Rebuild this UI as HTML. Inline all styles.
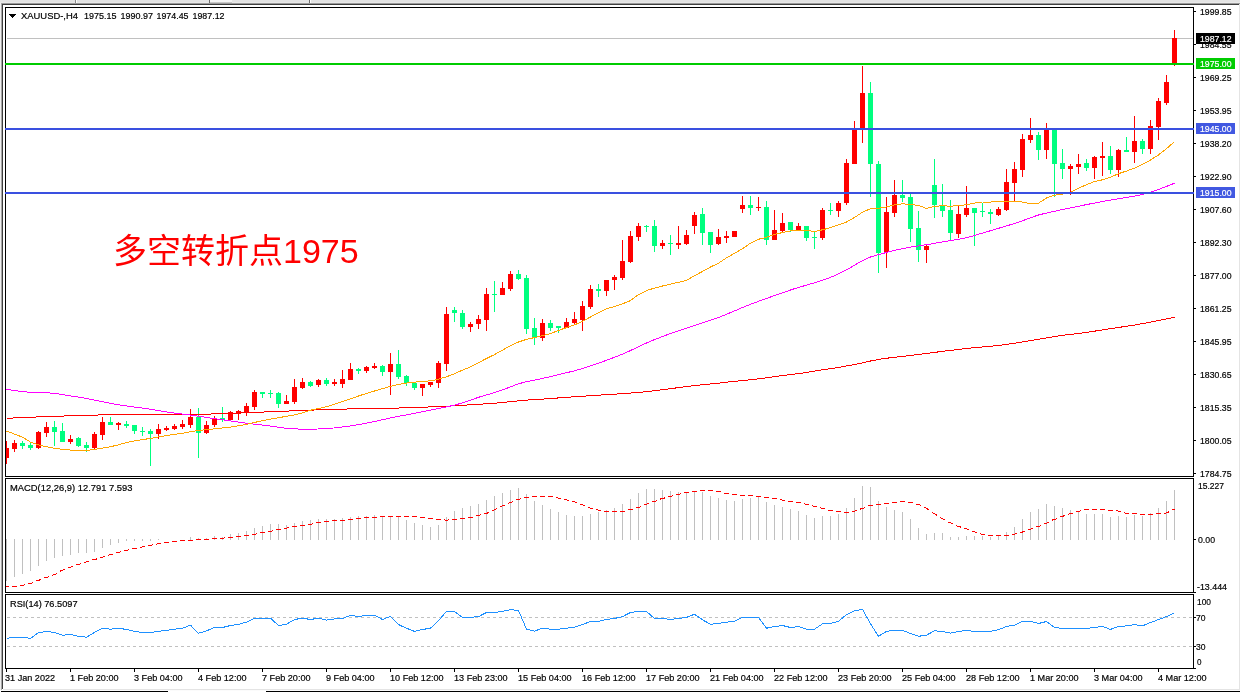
<!DOCTYPE html>
<html><head><meta charset="utf-8"><title>XAUUSD H4</title>
<style>
html,body{margin:0;padding:0;background:#fff;}
body{width:1240px;height:692px;overflow:hidden;}
svg{display:block;}
text{shape-rendering:auto;}
</style></head>
<body>
<svg width="1240" height="692" viewBox="0 0 1240 692" shape-rendering="crispEdges">
<rect x="0" y="0" width="1240" height="692" fill="#ffffff"/>
<rect x="0" y="0" width="1240" height="2" fill="#e3e3e3"/>
<rect x="0" y="2" width="1240" height="1" fill="#e9e9e9"/>
<rect x="0" y="3" width="1240" height="1" fill="#9a9a9a"/>
<rect x="2" y="4" width="1237" height="1" fill="#404040"/>
<rect x="75" y="0" width="1" height="3" fill="#8a8a8a"/>
<rect x="76" y="0" width="1" height="3" fill="#ffffff"/>
<rect x="209" y="0" width="1" height="3" fill="#6a6a6a"/>
<rect x="210" y="0" width="22" height="2" fill="#f4f4f4"/>
<rect x="210" y="2" width="22" height="1" fill="#c8c8c8"/>
<rect x="309" y="0" width="1" height="3" fill="#6a6a6a"/>
<rect x="310" y="0" width="1" height="3" fill="#ffffff"/>
<rect x="0" y="3" width="1" height="688" fill="#f0f0f0"/>
<rect x="1" y="3" width="1" height="687" fill="#a8a8a8"/>
<rect x="2" y="4" width="1" height="685" fill="#404040"/>
<rect x="1239" y="4" width="1" height="687" fill="#e4e4e4"/>
<rect x="3" y="689" width="1236" height="1" fill="#e4e4e4"/>
<rect x="0" y="690" width="1240" height="1" fill="#fbfbfb"/>
<rect x="1" y="691" width="167" height="1" fill="#000000"/>
<rect x="266" y="691" width="974" height="1" fill="#000000"/>
<defs><clipPath id="cm"><rect x="6" y="8" width="1187" height="468"/></clipPath><clipPath id="cd"><rect x="6" y="479" width="1187" height="113"/></clipPath><clipPath id="cr"><rect x="6" y="595" width="1187" height="73"/></clipPath></defs>
<g clip-path="url(#cm)">
<rect x="7" y="38" width="1186" height="1" fill="#c0c0c0"/>
<rect x="6" y="441" width="1" height="23" fill="#ff0000"/>
<rect x="4" y="448" width="5" height="10" fill="#ff0000"/>
<rect x="14" y="440" width="1" height="12" fill="#ff0000"/>
<rect x="12" y="443" width="5" height="6" fill="#ff0000"/>
<rect x="22" y="441" width="1" height="8" fill="#00ff7f"/>
<rect x="20" y="443" width="5" height="3" fill="#00ff7f"/>
<rect x="30" y="442" width="1" height="8" fill="#00ff7f"/>
<rect x="28" y="445" width="5" height="3" fill="#00ff7f"/>
<rect x="38" y="431" width="1" height="18" fill="#ff0000"/>
<rect x="36" y="432" width="5" height="16" fill="#ff0000"/>
<rect x="46" y="422" width="1" height="15" fill="#ff0000"/>
<rect x="44" y="427" width="5" height="6" fill="#ff0000"/>
<rect x="54" y="421" width="1" height="25" fill="#00ff7f"/>
<rect x="52" y="427" width="5" height="5" fill="#00ff7f"/>
<rect x="62" y="423" width="1" height="19" fill="#00ff7f"/>
<rect x="60" y="431" width="5" height="11" fill="#00ff7f"/>
<rect x="70" y="435" width="1" height="9" fill="#ff0000"/>
<rect x="68" y="439" width="5" height="3" fill="#ff0000"/>
<rect x="78" y="437" width="1" height="10" fill="#00ff7f"/>
<rect x="76" y="438" width="5" height="8" fill="#00ff7f"/>
<rect x="86" y="442" width="1" height="10" fill="#00ff7f"/>
<rect x="84" y="445" width="5" height="3" fill="#00ff7f"/>
<rect x="94" y="432" width="1" height="17" fill="#ff0000"/>
<rect x="92" y="434" width="5" height="14" fill="#ff0000"/>
<rect x="102" y="417" width="1" height="23" fill="#ff0000"/>
<rect x="100" y="422" width="5" height="13" fill="#ff0000"/>
<rect x="110" y="417" width="1" height="8" fill="#00ff7f"/>
<rect x="108" y="422" width="5" height="3" fill="#00ff7f"/>
<rect x="118" y="422" width="1" height="8" fill="#ff0000"/>
<rect x="116" y="423" width="5" height="2" fill="#ff0000"/>
<rect x="126" y="421" width="1" height="7" fill="#00ff7f"/>
<rect x="124" y="424" width="5" height="2" fill="#00ff7f"/>
<rect x="134" y="425" width="1" height="9" fill="#00ff7f"/>
<rect x="132" y="425" width="5" height="6" fill="#00ff7f"/>
<rect x="142" y="427" width="1" height="9" fill="#00ff7f"/>
<rect x="140" y="431" width="5" height="1" fill="#00ff7f"/>
<rect x="150" y="429" width="1" height="37" fill="#00ff7f"/>
<rect x="148" y="431" width="5" height="3" fill="#00ff7f"/>
<rect x="158" y="424" width="1" height="15" fill="#ff0000"/>
<rect x="156" y="429" width="5" height="5" fill="#ff0000"/>
<rect x="166" y="426" width="1" height="5" fill="#ff0000"/>
<rect x="164" y="428" width="5" height="2" fill="#ff0000"/>
<rect x="174" y="424" width="1" height="6" fill="#ff0000"/>
<rect x="172" y="426" width="5" height="3" fill="#ff0000"/>
<rect x="182" y="420" width="1" height="9" fill="#ff0000"/>
<rect x="180" y="424" width="5" height="3" fill="#ff0000"/>
<rect x="190" y="409" width="1" height="19" fill="#ff0000"/>
<rect x="188" y="417" width="5" height="8" fill="#ff0000"/>
<rect x="198" y="408" width="1" height="50" fill="#00ff7f"/>
<rect x="196" y="417" width="5" height="16" fill="#00ff7f"/>
<rect x="206" y="421" width="1" height="13" fill="#ff0000"/>
<rect x="204" y="425" width="5" height="8" fill="#ff0000"/>
<rect x="214" y="416" width="1" height="11" fill="#ff0000"/>
<rect x="212" y="418" width="5" height="7" fill="#ff0000"/>
<rect x="222" y="407" width="1" height="15" fill="#00ff7f"/>
<rect x="220" y="418" width="5" height="2" fill="#00ff7f"/>
<rect x="230" y="411" width="1" height="10" fill="#ff0000"/>
<rect x="228" y="412" width="5" height="8" fill="#ff0000"/>
<rect x="238" y="410" width="1" height="10" fill="#ff0000"/>
<rect x="236" y="411" width="5" height="2" fill="#ff0000"/>
<rect x="246" y="403" width="1" height="13" fill="#ff0000"/>
<rect x="244" y="406" width="5" height="6" fill="#ff0000"/>
<rect x="254" y="390" width="1" height="20" fill="#ff0000"/>
<rect x="252" y="392" width="5" height="15" fill="#ff0000"/>
<rect x="262" y="392" width="1" height="6" fill="#00ff7f"/>
<rect x="260" y="392" width="5" height="2" fill="#00ff7f"/>
<rect x="270" y="390" width="1" height="8" fill="#00ff7f"/>
<rect x="268" y="393" width="5" height="1" fill="#00ff7f"/>
<rect x="278" y="392" width="1" height="16" fill="#00ff7f"/>
<rect x="276" y="393" width="5" height="11" fill="#00ff7f"/>
<rect x="286" y="395" width="1" height="9" fill="#ff0000"/>
<rect x="284" y="401" width="5" height="3" fill="#ff0000"/>
<rect x="294" y="379" width="1" height="25" fill="#ff0000"/>
<rect x="292" y="387" width="5" height="15" fill="#ff0000"/>
<rect x="302" y="378" width="1" height="11" fill="#ff0000"/>
<rect x="300" y="382" width="5" height="6" fill="#ff0000"/>
<rect x="310" y="381" width="1" height="6" fill="#00ff7f"/>
<rect x="308" y="382" width="5" height="4" fill="#00ff7f"/>
<rect x="318" y="379" width="1" height="8" fill="#ff0000"/>
<rect x="316" y="380" width="5" height="5" fill="#ff0000"/>
<rect x="326" y="378" width="1" height="8" fill="#00ff7f"/>
<rect x="324" y="380" width="5" height="4" fill="#00ff7f"/>
<rect x="334" y="379" width="1" height="7" fill="#ff0000"/>
<rect x="332" y="382" width="5" height="2" fill="#ff0000"/>
<rect x="342" y="370" width="1" height="18" fill="#ff0000"/>
<rect x="340" y="379" width="5" height="5" fill="#ff0000"/>
<rect x="350" y="363" width="1" height="17" fill="#ff0000"/>
<rect x="348" y="369" width="5" height="11" fill="#ff0000"/>
<rect x="358" y="368" width="1" height="6" fill="#00ff7f"/>
<rect x="356" y="369" width="5" height="2" fill="#00ff7f"/>
<rect x="366" y="366" width="1" height="7" fill="#ff0000"/>
<rect x="364" y="367" width="5" height="4" fill="#ff0000"/>
<rect x="374" y="363" width="1" height="6" fill="#ff0000"/>
<rect x="372" y="366" width="5" height="2" fill="#ff0000"/>
<rect x="382" y="365" width="1" height="11" fill="#00ff7f"/>
<rect x="380" y="366" width="5" height="6" fill="#00ff7f"/>
<rect x="390" y="353" width="1" height="42" fill="#ff0000"/>
<rect x="388" y="364" width="5" height="8" fill="#ff0000"/>
<rect x="398" y="350" width="1" height="29" fill="#00ff7f"/>
<rect x="396" y="364" width="5" height="13" fill="#00ff7f"/>
<rect x="406" y="375" width="1" height="11" fill="#00ff7f"/>
<rect x="404" y="376" width="5" height="7" fill="#00ff7f"/>
<rect x="414" y="383" width="1" height="7" fill="#00ff7f"/>
<rect x="412" y="383" width="5" height="5" fill="#00ff7f"/>
<rect x="422" y="384" width="1" height="12" fill="#ff0000"/>
<rect x="420" y="384" width="5" height="4" fill="#ff0000"/>
<rect x="430" y="382" width="1" height="5" fill="#ff0000"/>
<rect x="428" y="382" width="5" height="3" fill="#ff0000"/>
<rect x="438" y="361" width="1" height="27" fill="#ff0000"/>
<rect x="436" y="363" width="5" height="20" fill="#ff0000"/>
<rect x="446" y="307" width="1" height="64" fill="#ff0000"/>
<rect x="444" y="314" width="5" height="50" fill="#ff0000"/>
<rect x="454" y="307" width="1" height="15" fill="#00ff7f"/>
<rect x="452" y="310" width="5" height="3" fill="#00ff7f"/>
<rect x="462" y="310" width="1" height="19" fill="#00ff7f"/>
<rect x="460" y="313" width="5" height="14" fill="#00ff7f"/>
<rect x="470" y="322" width="1" height="10" fill="#ff0000"/>
<rect x="468" y="324" width="5" height="3" fill="#ff0000"/>
<rect x="478" y="315" width="1" height="14" fill="#ff0000"/>
<rect x="476" y="319" width="5" height="5" fill="#ff0000"/>
<rect x="486" y="288" width="1" height="43" fill="#ff0000"/>
<rect x="484" y="294" width="5" height="26" fill="#ff0000"/>
<rect x="494" y="281" width="1" height="31" fill="#00ff7f"/>
<rect x="492" y="294" width="5" height="1" fill="#00ff7f"/>
<rect x="502" y="282" width="1" height="13" fill="#ff0000"/>
<rect x="500" y="288" width="5" height="7" fill="#ff0000"/>
<rect x="510" y="271" width="1" height="20" fill="#ff0000"/>
<rect x="508" y="274" width="5" height="15" fill="#ff0000"/>
<rect x="518" y="270" width="1" height="10" fill="#00ff7f"/>
<rect x="516" y="274" width="5" height="5" fill="#00ff7f"/>
<rect x="526" y="275" width="1" height="59" fill="#00ff7f"/>
<rect x="524" y="278" width="5" height="51" fill="#00ff7f"/>
<rect x="534" y="318" width="1" height="27" fill="#00ff7f"/>
<rect x="532" y="328" width="5" height="10" fill="#00ff7f"/>
<rect x="542" y="319" width="1" height="22" fill="#ff0000"/>
<rect x="540" y="323" width="5" height="15" fill="#ff0000"/>
<rect x="550" y="320" width="1" height="11" fill="#00ff7f"/>
<rect x="548" y="323" width="5" height="5" fill="#00ff7f"/>
<rect x="558" y="326" width="1" height="7" fill="#00ff7f"/>
<rect x="556" y="326" width="5" height="2" fill="#00ff7f"/>
<rect x="566" y="318" width="1" height="10" fill="#ff0000"/>
<rect x="564" y="322" width="5" height="6" fill="#ff0000"/>
<rect x="574" y="312" width="1" height="12" fill="#ff0000"/>
<rect x="572" y="319" width="5" height="4" fill="#ff0000"/>
<rect x="582" y="301" width="1" height="30" fill="#ff0000"/>
<rect x="580" y="306" width="5" height="14" fill="#ff0000"/>
<rect x="590" y="285" width="1" height="24" fill="#ff0000"/>
<rect x="588" y="289" width="5" height="18" fill="#ff0000"/>
<rect x="598" y="284" width="1" height="13" fill="#00ff7f"/>
<rect x="596" y="289" width="5" height="2" fill="#00ff7f"/>
<rect x="606" y="280" width="1" height="16" fill="#ff0000"/>
<rect x="604" y="280" width="5" height="11" fill="#ff0000"/>
<rect x="614" y="275" width="1" height="15" fill="#ff0000"/>
<rect x="612" y="277" width="5" height="3" fill="#ff0000"/>
<rect x="622" y="240" width="1" height="40" fill="#ff0000"/>
<rect x="620" y="261" width="5" height="17" fill="#ff0000"/>
<rect x="630" y="231" width="1" height="32" fill="#ff0000"/>
<rect x="628" y="236" width="5" height="26" fill="#ff0000"/>
<rect x="638" y="223" width="1" height="18" fill="#ff0000"/>
<rect x="636" y="226" width="5" height="11" fill="#ff0000"/>
<rect x="646" y="225" width="1" height="7" fill="#00ff7f"/>
<rect x="644" y="226" width="5" height="1" fill="#00ff7f"/>
<rect x="654" y="220" width="1" height="32" fill="#00ff7f"/>
<rect x="652" y="226" width="5" height="20" fill="#00ff7f"/>
<rect x="662" y="240" width="1" height="9" fill="#ff0000"/>
<rect x="660" y="243" width="5" height="3" fill="#ff0000"/>
<rect x="670" y="235" width="1" height="20" fill="#00ff7f"/>
<rect x="668" y="243" width="5" height="1" fill="#00ff7f"/>
<rect x="678" y="226" width="1" height="23" fill="#ff0000"/>
<rect x="676" y="243" width="5" height="2" fill="#ff0000"/>
<rect x="686" y="230" width="1" height="15" fill="#ff0000"/>
<rect x="684" y="235" width="5" height="9" fill="#ff0000"/>
<rect x="694" y="212" width="1" height="22" fill="#ff0000"/>
<rect x="692" y="215" width="5" height="11" fill="#ff0000"/>
<rect x="702" y="208" width="1" height="37" fill="#00ff7f"/>
<rect x="700" y="214" width="5" height="19" fill="#00ff7f"/>
<rect x="710" y="232" width="1" height="21" fill="#00ff7f"/>
<rect x="708" y="232" width="5" height="13" fill="#00ff7f"/>
<rect x="718" y="229" width="1" height="16" fill="#ff0000"/>
<rect x="716" y="237" width="5" height="7" fill="#ff0000"/>
<rect x="726" y="231" width="1" height="12" fill="#ff0000"/>
<rect x="724" y="236" width="5" height="2" fill="#ff0000"/>
<rect x="734" y="231" width="1" height="6" fill="#ff0000"/>
<rect x="732" y="231" width="5" height="6" fill="#ff0000"/>
<rect x="742" y="196" width="1" height="17" fill="#ff0000"/>
<rect x="740" y="205" width="5" height="4" fill="#ff0000"/>
<rect x="750" y="196" width="1" height="19" fill="#00ff7f"/>
<rect x="748" y="205" width="5" height="3" fill="#00ff7f"/>
<rect x="758" y="197" width="1" height="14" fill="#ff0000"/>
<rect x="756" y="207" width="5" height="1" fill="#ff0000"/>
<rect x="766" y="201" width="1" height="44" fill="#00ff7f"/>
<rect x="764" y="207" width="5" height="33" fill="#00ff7f"/>
<rect x="774" y="210" width="1" height="30" fill="#ff0000"/>
<rect x="772" y="230" width="5" height="10" fill="#ff0000"/>
<rect x="782" y="213" width="1" height="19" fill="#ff0000"/>
<rect x="780" y="223" width="5" height="8" fill="#ff0000"/>
<rect x="790" y="222" width="1" height="10" fill="#00ff7f"/>
<rect x="788" y="222" width="5" height="8" fill="#00ff7f"/>
<rect x="798" y="223" width="1" height="7" fill="#ff0000"/>
<rect x="796" y="226" width="5" height="4" fill="#ff0000"/>
<rect x="806" y="226" width="1" height="15" fill="#00ff7f"/>
<rect x="804" y="226" width="5" height="12" fill="#00ff7f"/>
<rect x="814" y="232" width="1" height="17" fill="#00ff7f"/>
<rect x="812" y="237" width="5" height="1" fill="#00ff7f"/>
<rect x="822" y="208" width="1" height="32" fill="#ff0000"/>
<rect x="820" y="210" width="5" height="28" fill="#ff0000"/>
<rect x="830" y="203" width="1" height="12" fill="#00ff7f"/>
<rect x="828" y="210" width="5" height="1" fill="#00ff7f"/>
<rect x="838" y="201" width="1" height="16" fill="#ff0000"/>
<rect x="836" y="203" width="5" height="8" fill="#ff0000"/>
<rect x="846" y="159" width="1" height="46" fill="#ff0000"/>
<rect x="844" y="163" width="5" height="40" fill="#ff0000"/>
<rect x="854" y="121" width="1" height="43" fill="#ff0000"/>
<rect x="852" y="130" width="5" height="34" fill="#ff0000"/>
<rect x="862" y="66" width="1" height="77" fill="#ff0000"/>
<rect x="860" y="93" width="5" height="36" fill="#ff0000"/>
<rect x="870" y="82" width="1" height="115" fill="#00ff7f"/>
<rect x="868" y="93" width="5" height="71" fill="#00ff7f"/>
<rect x="878" y="161" width="1" height="112" fill="#00ff7f"/>
<rect x="876" y="164" width="5" height="89" fill="#00ff7f"/>
<rect x="886" y="197" width="1" height="71" fill="#ff0000"/>
<rect x="884" y="212" width="5" height="40" fill="#ff0000"/>
<rect x="894" y="180" width="1" height="37" fill="#ff0000"/>
<rect x="892" y="195" width="5" height="18" fill="#ff0000"/>
<rect x="902" y="180" width="1" height="22" fill="#00ff7f"/>
<rect x="900" y="195" width="5" height="3" fill="#00ff7f"/>
<rect x="910" y="194" width="1" height="48" fill="#00ff7f"/>
<rect x="908" y="197" width="5" height="32" fill="#00ff7f"/>
<rect x="918" y="211" width="1" height="51" fill="#00ff7f"/>
<rect x="916" y="228" width="5" height="22" fill="#00ff7f"/>
<rect x="926" y="245" width="1" height="18" fill="#ff0000"/>
<rect x="924" y="246" width="5" height="4" fill="#ff0000"/>
<rect x="934" y="159" width="1" height="59" fill="#00ff7f"/>
<rect x="932" y="185" width="5" height="20" fill="#00ff7f"/>
<rect x="942" y="184" width="1" height="33" fill="#00ff7f"/>
<rect x="940" y="205" width="5" height="6" fill="#00ff7f"/>
<rect x="950" y="200" width="1" height="40" fill="#00ff7f"/>
<rect x="948" y="210" width="5" height="23" fill="#00ff7f"/>
<rect x="958" y="206" width="1" height="32" fill="#ff0000"/>
<rect x="956" y="214" width="5" height="20" fill="#ff0000"/>
<rect x="966" y="186" width="1" height="31" fill="#ff0000"/>
<rect x="964" y="208" width="5" height="7" fill="#ff0000"/>
<rect x="974" y="208" width="1" height="38" fill="#00ff7f"/>
<rect x="972" y="208" width="5" height="5" fill="#00ff7f"/>
<rect x="982" y="203" width="1" height="14" fill="#00ff7f"/>
<rect x="980" y="211" width="5" height="1" fill="#00ff7f"/>
<rect x="990" y="209" width="1" height="15" fill="#00ff7f"/>
<rect x="988" y="212" width="5" height="2" fill="#00ff7f"/>
<rect x="998" y="207" width="1" height="9" fill="#ff0000"/>
<rect x="996" y="209" width="5" height="6" fill="#ff0000"/>
<rect x="1006" y="169" width="1" height="42" fill="#ff0000"/>
<rect x="1004" y="182" width="5" height="28" fill="#ff0000"/>
<rect x="1014" y="162" width="1" height="39" fill="#ff0000"/>
<rect x="1012" y="169" width="5" height="14" fill="#ff0000"/>
<rect x="1022" y="134" width="1" height="43" fill="#ff0000"/>
<rect x="1020" y="139" width="5" height="31" fill="#ff0000"/>
<rect x="1030" y="118" width="1" height="25" fill="#ff0000"/>
<rect x="1028" y="135" width="5" height="5" fill="#ff0000"/>
<rect x="1038" y="132" width="1" height="28" fill="#00ff7f"/>
<rect x="1036" y="135" width="5" height="15" fill="#00ff7f"/>
<rect x="1046" y="123" width="1" height="36" fill="#ff0000"/>
<rect x="1044" y="130" width="5" height="20" fill="#ff0000"/>
<rect x="1054" y="130" width="1" height="67" fill="#00ff7f"/>
<rect x="1052" y="130" width="5" height="34" fill="#00ff7f"/>
<rect x="1062" y="149" width="1" height="30" fill="#00ff7f"/>
<rect x="1060" y="163" width="5" height="6" fill="#00ff7f"/>
<rect x="1070" y="164" width="1" height="31" fill="#ff0000"/>
<rect x="1068" y="166" width="5" height="3" fill="#ff0000"/>
<rect x="1078" y="154" width="1" height="20" fill="#ff0000"/>
<rect x="1076" y="164" width="5" height="3" fill="#ff0000"/>
<rect x="1086" y="159" width="1" height="12" fill="#00ff7f"/>
<rect x="1084" y="163" width="5" height="5" fill="#00ff7f"/>
<rect x="1094" y="156" width="1" height="23" fill="#ff0000"/>
<rect x="1092" y="157" width="5" height="11" fill="#ff0000"/>
<rect x="1102" y="142" width="1" height="34" fill="#ff0000"/>
<rect x="1100" y="156" width="5" height="2" fill="#ff0000"/>
<rect x="1110" y="146" width="1" height="28" fill="#00ff7f"/>
<rect x="1108" y="156" width="5" height="14" fill="#00ff7f"/>
<rect x="1118" y="149" width="1" height="28" fill="#ff0000"/>
<rect x="1116" y="150" width="5" height="20" fill="#ff0000"/>
<rect x="1126" y="137" width="1" height="15" fill="#00ff7f"/>
<rect x="1124" y="150" width="5" height="2" fill="#00ff7f"/>
<rect x="1134" y="116" width="1" height="47" fill="#ff0000"/>
<rect x="1132" y="141" width="5" height="11" fill="#ff0000"/>
<rect x="1142" y="139" width="1" height="15" fill="#00ff7f"/>
<rect x="1140" y="141" width="5" height="8" fill="#00ff7f"/>
<rect x="1150" y="120" width="1" height="34" fill="#ff0000"/>
<rect x="1148" y="126" width="5" height="23" fill="#ff0000"/>
<rect x="1158" y="98" width="1" height="42" fill="#ff0000"/>
<rect x="1156" y="101" width="5" height="26" fill="#ff0000"/>
<rect x="1166" y="75" width="1" height="30" fill="#ff0000"/>
<rect x="1164" y="82" width="5" height="21" fill="#ff0000"/>
<rect x="1174" y="30" width="1" height="36" fill="#ff0000"/>
<rect x="1172" y="38" width="5" height="26" fill="#ff0000"/>
<polyline points="6.5,418.30 14.5,417.94 22.5,417.58 30.5,417.24 38.5,416.90 46.5,416.58 54.5,416.30 62.5,416.05 70.5,415.82 78.5,415.58 86.5,415.35 94.5,415.12 102.5,414.88 110.5,414.65 118.5,414.47 126.5,414.45 134.5,414.57 142.5,414.74 150.5,414.87 158.5,414.91 166.5,414.84 174.5,414.73 182.5,414.61 190.5,414.48 198.5,414.31 206.5,414.11 214.5,413.92 222.5,413.71 230.5,413.44 238.5,413.10 246.5,412.74 254.5,412.39 262.5,412.06 270.5,411.75 278.5,411.44 286.5,411.11 294.5,410.75 302.5,410.40 310.5,410.10 318.5,409.85 326.5,409.62 334.5,409.39 342.5,409.15 350.5,408.91 358.5,408.66 366.5,408.45 374.5,408.33 382.5,408.30 390.5,408.23 398.5,408.03 406.5,407.77 414.5,407.50 422.5,407.21 430.5,406.90 438.5,406.58 446.5,406.23 454.5,405.80 462.5,405.29 470.5,404.78 478.5,404.30 486.5,403.78 494.5,403.19 502.5,402.48 510.5,401.69 518.5,400.86 526.5,400.10 534.5,399.54 542.5,399.08 550.5,398.54 558.5,397.93 566.5,397.34 574.5,396.79 582.5,396.25 590.5,395.71 598.5,395.19 606.5,394.68 614.5,394.15 622.5,393.61 630.5,393.06 638.5,392.45 646.5,391.64 654.5,390.65 662.5,389.64 670.5,388.64 678.5,387.63 686.5,386.57 694.5,385.56 702.5,384.74 710.5,384.00 718.5,383.13 726.5,382.19 734.5,381.33 742.5,380.54 750.5,379.75 758.5,378.88 766.5,377.79 774.5,376.61 782.5,375.52 790.5,374.55 798.5,373.61 806.5,372.48 814.5,371.07 822.5,369.79 830.5,368.69 838.5,367.40 846.5,365.98 854.5,364.56 862.5,362.85 870.5,361.00 878.5,359.45 886.5,358.24 894.5,357.30 902.5,356.44 910.5,355.48 918.5,354.45 926.5,353.41 934.5,352.38 942.5,351.37 950.5,350.39 958.5,349.43 966.5,348.53 974.5,347.69 982.5,346.93 990.5,346.24 998.5,345.46 1006.5,344.43 1014.5,343.21 1022.5,341.89 1030.5,340.54 1038.5,339.22 1046.5,337.89 1054.5,336.53 1062.5,335.35 1070.5,334.40 1078.5,333.44 1086.5,332.36 1094.5,331.18 1102.5,329.89 1110.5,328.62 1118.5,327.44 1126.5,326.30 1134.5,325.05 1142.5,323.59 1150.5,322.06 1158.5,320.51 1166.5,318.91 1174.5,317.30" fill="none" stroke="#ff0000" stroke-width="1" shape-rendering="crispEdges"/>
<polyline points="6.5,389.40 14.5,390.54 22.5,391.60 30.5,392.29 38.5,392.50 46.5,392.67 54.5,393.38 62.5,394.63 70.5,395.90 78.5,397.09 86.5,398.52 94.5,400.14 102.5,401.76 110.5,403.30 118.5,404.74 126.5,406.00 134.5,407.04 142.5,408.02 150.5,409.21 158.5,410.57 166.5,411.89 174.5,413.03 182.5,414.05 190.5,415.11 198.5,416.25 206.5,417.42 214.5,418.62 222.5,419.79 230.5,420.92 238.5,422.12 246.5,423.26 254.5,424.16 262.5,425.05 270.5,426.12 278.5,427.28 286.5,428.31 294.5,428.94 302.5,429.10 310.5,429.10 318.5,429.00 326.5,428.62 334.5,427.92 342.5,426.98 350.5,425.91 358.5,424.67 366.5,423.21 374.5,421.54 382.5,419.73 390.5,417.98 398.5,416.38 406.5,414.83 414.5,413.28 422.5,411.73 430.5,410.18 438.5,408.60 446.5,406.94 454.5,405.08 462.5,402.90 470.5,400.20 478.5,397.31 486.5,394.89 494.5,392.63 502.5,389.94 510.5,386.83 518.5,383.86 526.5,381.64 534.5,380.03 542.5,378.42 550.5,376.59 558.5,374.64 566.5,372.76 574.5,370.81 582.5,368.48 590.5,365.90 598.5,363.20 606.5,360.31 614.5,357.25 622.5,354.06 630.5,350.54 638.5,346.69 646.5,342.97 654.5,339.63 662.5,336.49 670.5,333.53 678.5,330.80 686.5,328.16 694.5,325.52 702.5,322.86 710.5,320.20 718.5,317.44 726.5,314.34 734.5,310.92 742.5,307.48 750.5,304.30 758.5,301.33 766.5,298.44 774.5,295.60 782.5,292.81 790.5,290.01 798.5,287.41 806.5,285.16 814.5,282.81 822.5,280.20 830.5,277.37 838.5,273.96 846.5,269.85 854.5,265.21 862.5,260.59 870.5,256.98 878.5,254.57 886.5,252.50 894.5,250.41 902.5,248.58 910.5,247.14 918.5,245.93 926.5,244.69 934.5,243.35 942.5,241.93 950.5,240.57 958.5,239.34 966.5,237.79 974.5,235.50 982.5,233.04 990.5,230.71 998.5,228.29 1006.5,225.93 1014.5,223.53 1022.5,220.79 1030.5,217.74 1038.5,214.99 1046.5,213.03 1054.5,211.27 1062.5,209.44 1070.5,207.84 1078.5,206.25 1086.5,204.60 1094.5,203.03 1102.5,201.51 1110.5,200.05 1118.5,198.70 1126.5,197.40 1134.5,196.10 1142.5,194.48 1150.5,192.19 1158.5,189.46 1166.5,186.45 1174.5,183.20" fill="none" stroke="#ff00ff" stroke-width="1" shape-rendering="crispEdges"/>
<polyline points="6.5,431.00 14.5,434.08 22.5,437.17 30.5,442.10 38.5,445.00 46.5,446.68 54.5,448.44 62.5,449.21 70.5,450.06 78.5,450.50 86.5,450.50 94.5,449.35 102.5,448.15 110.5,446.70 118.5,444.86 126.5,442.50 134.5,440.81 142.5,439.62 150.5,438.40 158.5,436.87 166.5,435.52 174.5,434.41 182.5,433.30 190.5,431.70 198.5,430.41 206.5,429.63 214.5,428.85 222.5,427.95 230.5,427.05 238.5,425.84 246.5,424.31 254.5,422.46 262.5,420.66 270.5,419.18 278.5,417.71 286.5,416.32 294.5,414.92 302.5,412.78 310.5,410.20 318.5,408.60 326.5,406.70 334.5,404.30 342.5,401.62 350.5,398.85 358.5,396.02 366.5,393.40 374.5,391.00 382.5,388.60 390.5,386.37 398.5,384.34 406.5,383.07 414.5,382.13 422.5,381.41 430.5,380.84 438.5,379.20 446.5,376.79 454.5,373.69 462.5,370.11 470.5,366.96 478.5,362.71 486.5,358.45 494.5,354.63 502.5,350.11 510.5,345.58 518.5,342.04 526.5,339.31 534.5,337.56 542.5,335.75 550.5,333.67 558.5,330.41 566.5,327.65 574.5,324.91 582.5,321.34 590.5,316.97 598.5,312.69 606.5,308.78 614.5,306.52 622.5,303.80 630.5,300.60 638.5,294.59 646.5,290.58 654.5,288.05 662.5,286.02 670.5,284.10 678.5,282.24 686.5,280.46 694.5,275.70 702.5,271.45 710.5,267.00 718.5,263.23 726.5,257.90 734.5,253.24 742.5,248.80 750.5,243.13 758.5,239.24 766.5,237.31 774.5,234.45 782.5,232.52 790.5,230.99 798.5,230.30 806.5,230.30 814.5,231.50 822.5,229.79 830.5,227.67 838.5,224.76 846.5,222.04 854.5,217.48 862.5,212.13 870.5,208.80 878.5,208.20 886.5,206.88 894.5,204.88 902.5,203.85 910.5,204.37 918.5,205.40 926.5,208.50 934.5,206.24 942.5,205.85 950.5,206.13 958.5,205.79 966.5,204.69 974.5,203.07 982.5,202.00 990.5,202.00 998.5,201.96 1006.5,201.71 1014.5,201.19 1022.5,202.08 1030.5,203.82 1038.5,203.21 1046.5,198.04 1054.5,195.21 1062.5,194.20 1070.5,192.26 1078.5,188.29 1086.5,184.64 1094.5,181.59 1102.5,179.80 1110.5,177.25 1118.5,173.70 1126.5,171.05 1134.5,168.08 1142.5,164.45 1150.5,160.02 1158.5,154.92 1166.5,148.70 1174.5,141.50" fill="none" stroke="#ffa500" stroke-width="1" shape-rendering="crispEdges"/>
<g style="will-change:transform"><text x="113" y="263" font-size="34" fill="#ff0000" font-family='"Liberation Sans", "Noto Sans CJK SC", sans-serif'>多空转折点1975</text></g>
</g>
<path d="M9,14 L16,14 L12.5,18 Z" fill="#000"/>
<g style="will-change:transform"><text x="21" y="19" font-size="9.5" fill="#000" font-family='"Liberation Sans", Arial, sans-serif' stroke="#000" stroke-width="0.2" textLength="57.0" lengthAdjust="spacingAndGlyphs">XAUUSD-,H4</text></g>
<g style="will-change:transform"><text x="84" y="19" font-size="9.5" fill="#000" font-family='"Liberation Sans", Arial, sans-serif' stroke="#000" stroke-width="0.2" textLength="32.5" lengthAdjust="spacingAndGlyphs">1975.15</text></g>
<g style="will-change:transform"><text x="120.5" y="19" font-size="9.5" fill="#000" font-family='"Liberation Sans", Arial, sans-serif' stroke="#000" stroke-width="0.2" textLength="32.5" lengthAdjust="spacingAndGlyphs">1990.97</text></g>
<g style="will-change:transform"><text x="156.5" y="19" font-size="9.5" fill="#000" font-family='"Liberation Sans", Arial, sans-serif' stroke="#000" stroke-width="0.2" textLength="32.0" lengthAdjust="spacingAndGlyphs">1974.45</text></g>
<g style="will-change:transform"><text x="192.5" y="19" font-size="9.5" fill="#000" font-family='"Liberation Sans", Arial, sans-serif' stroke="#000" stroke-width="0.2" textLength="32.0" lengthAdjust="spacingAndGlyphs">1987.12</text></g>
<g clip-path="url(#cd)">
<rect x="6" y="539" width="1" height="42" fill="#c0c0c0"/>
<rect x="14" y="539" width="1" height="38" fill="#c0c0c0"/>
<rect x="22" y="539" width="1" height="35" fill="#c0c0c0"/>
<rect x="30" y="539" width="1" height="32" fill="#c0c0c0"/>
<rect x="38" y="539" width="1" height="27" fill="#c0c0c0"/>
<rect x="46" y="539" width="1" height="22" fill="#c0c0c0"/>
<rect x="54" y="539" width="1" height="19" fill="#c0c0c0"/>
<rect x="62" y="539" width="1" height="17" fill="#c0c0c0"/>
<rect x="70" y="539" width="1" height="16" fill="#c0c0c0"/>
<rect x="78" y="539" width="1" height="14" fill="#c0c0c0"/>
<rect x="86" y="539" width="1" height="14" fill="#c0c0c0"/>
<rect x="94" y="539" width="1" height="13" fill="#c0c0c0"/>
<rect x="102" y="539" width="1" height="9" fill="#c0c0c0"/>
<rect x="110" y="539" width="1" height="6" fill="#c0c0c0"/>
<rect x="118" y="539" width="1" height="4" fill="#c0c0c0"/>
<rect x="126" y="539" width="1" height="2" fill="#c0c0c0"/>
<rect x="134" y="539" width="1" height="2" fill="#c0c0c0"/>
<rect x="142" y="539" width="1" height="2" fill="#c0c0c0"/>
<rect x="150" y="539" width="1" height="2" fill="#c0c0c0"/>
<rect x="158" y="539" width="1" height="1" fill="#c0c0c0"/>
<rect x="190" y="537" width="1" height="3" fill="#c0c0c0"/>
<rect x="198" y="538" width="1" height="2" fill="#c0c0c0"/>
<rect x="206" y="538" width="1" height="2" fill="#c0c0c0"/>
<rect x="214" y="536" width="1" height="4" fill="#c0c0c0"/>
<rect x="222" y="537" width="1" height="3" fill="#c0c0c0"/>
<rect x="230" y="534" width="1" height="6" fill="#c0c0c0"/>
<rect x="238" y="533" width="1" height="7" fill="#c0c0c0"/>
<rect x="246" y="531" width="1" height="9" fill="#c0c0c0"/>
<rect x="254" y="528" width="1" height="12" fill="#c0c0c0"/>
<rect x="262" y="526" width="1" height="14" fill="#c0c0c0"/>
<rect x="270" y="524" width="1" height="16" fill="#c0c0c0"/>
<rect x="278" y="524" width="1" height="16" fill="#c0c0c0"/>
<rect x="286" y="525" width="1" height="15" fill="#c0c0c0"/>
<rect x="294" y="523" width="1" height="17" fill="#c0c0c0"/>
<rect x="302" y="521" width="1" height="19" fill="#c0c0c0"/>
<rect x="310" y="520" width="1" height="20" fill="#c0c0c0"/>
<rect x="318" y="519" width="1" height="21" fill="#c0c0c0"/>
<rect x="326" y="519" width="1" height="21" fill="#c0c0c0"/>
<rect x="334" y="519" width="1" height="21" fill="#c0c0c0"/>
<rect x="342" y="518" width="1" height="22" fill="#c0c0c0"/>
<rect x="350" y="517" width="1" height="23" fill="#c0c0c0"/>
<rect x="358" y="516" width="1" height="24" fill="#c0c0c0"/>
<rect x="366" y="516" width="1" height="24" fill="#c0c0c0"/>
<rect x="374" y="515" width="1" height="25" fill="#c0c0c0"/>
<rect x="382" y="517" width="1" height="23" fill="#c0c0c0"/>
<rect x="390" y="517" width="1" height="23" fill="#c0c0c0"/>
<rect x="398" y="517" width="1" height="23" fill="#c0c0c0"/>
<rect x="406" y="520" width="1" height="20" fill="#c0c0c0"/>
<rect x="414" y="523" width="1" height="17" fill="#c0c0c0"/>
<rect x="422" y="525" width="1" height="15" fill="#c0c0c0"/>
<rect x="430" y="527" width="1" height="13" fill="#c0c0c0"/>
<rect x="438" y="525" width="1" height="15" fill="#c0c0c0"/>
<rect x="446" y="517" width="1" height="23" fill="#c0c0c0"/>
<rect x="454" y="511" width="1" height="29" fill="#c0c0c0"/>
<rect x="462" y="508" width="1" height="32" fill="#c0c0c0"/>
<rect x="470" y="506" width="1" height="34" fill="#c0c0c0"/>
<rect x="478" y="504" width="1" height="36" fill="#c0c0c0"/>
<rect x="486" y="500" width="1" height="40" fill="#c0c0c0"/>
<rect x="494" y="496" width="1" height="44" fill="#c0c0c0"/>
<rect x="502" y="493" width="1" height="47" fill="#c0c0c0"/>
<rect x="510" y="490" width="1" height="50" fill="#c0c0c0"/>
<rect x="518" y="488" width="1" height="52" fill="#c0c0c0"/>
<rect x="526" y="494" width="1" height="46" fill="#c0c0c0"/>
<rect x="534" y="501" width="1" height="39" fill="#c0c0c0"/>
<rect x="542" y="505" width="1" height="35" fill="#c0c0c0"/>
<rect x="550" y="509" width="1" height="31" fill="#c0c0c0"/>
<rect x="558" y="512" width="1" height="28" fill="#c0c0c0"/>
<rect x="566" y="515" width="1" height="25" fill="#c0c0c0"/>
<rect x="574" y="516" width="1" height="24" fill="#c0c0c0"/>
<rect x="582" y="516" width="1" height="24" fill="#c0c0c0"/>
<rect x="590" y="514" width="1" height="26" fill="#c0c0c0"/>
<rect x="598" y="512" width="1" height="28" fill="#c0c0c0"/>
<rect x="606" y="510" width="1" height="30" fill="#c0c0c0"/>
<rect x="614" y="508" width="1" height="32" fill="#c0c0c0"/>
<rect x="622" y="504" width="1" height="36" fill="#c0c0c0"/>
<rect x="630" y="499" width="1" height="41" fill="#c0c0c0"/>
<rect x="638" y="493" width="1" height="47" fill="#c0c0c0"/>
<rect x="646" y="489" width="1" height="51" fill="#c0c0c0"/>
<rect x="654" y="489" width="1" height="51" fill="#c0c0c0"/>
<rect x="662" y="490" width="1" height="50" fill="#c0c0c0"/>
<rect x="670" y="491" width="1" height="49" fill="#c0c0c0"/>
<rect x="678" y="492" width="1" height="48" fill="#c0c0c0"/>
<rect x="686" y="493" width="1" height="47" fill="#c0c0c0"/>
<rect x="694" y="492" width="1" height="48" fill="#c0c0c0"/>
<rect x="702" y="492" width="1" height="48" fill="#c0c0c0"/>
<rect x="710" y="496" width="1" height="44" fill="#c0c0c0"/>
<rect x="718" y="498" width="1" height="42" fill="#c0c0c0"/>
<rect x="726" y="500" width="1" height="40" fill="#c0c0c0"/>
<rect x="734" y="501" width="1" height="39" fill="#c0c0c0"/>
<rect x="742" y="499" width="1" height="41" fill="#c0c0c0"/>
<rect x="750" y="498" width="1" height="42" fill="#c0c0c0"/>
<rect x="758" y="497" width="1" height="43" fill="#c0c0c0"/>
<rect x="766" y="502" width="1" height="38" fill="#c0c0c0"/>
<rect x="774" y="505" width="1" height="35" fill="#c0c0c0"/>
<rect x="782" y="507" width="1" height="33" fill="#c0c0c0"/>
<rect x="790" y="509" width="1" height="31" fill="#c0c0c0"/>
<rect x="798" y="511" width="1" height="29" fill="#c0c0c0"/>
<rect x="806" y="515" width="1" height="25" fill="#c0c0c0"/>
<rect x="814" y="518" width="1" height="22" fill="#c0c0c0"/>
<rect x="822" y="516" width="1" height="24" fill="#c0c0c0"/>
<rect x="830" y="516" width="1" height="24" fill="#c0c0c0"/>
<rect x="838" y="514" width="1" height="26" fill="#c0c0c0"/>
<rect x="846" y="508" width="1" height="32" fill="#c0c0c0"/>
<rect x="854" y="498" width="1" height="42" fill="#c0c0c0"/>
<rect x="862" y="486" width="1" height="54" fill="#c0c0c0"/>
<rect x="870" y="487" width="1" height="53" fill="#c0c0c0"/>
<rect x="878" y="501" width="1" height="39" fill="#c0c0c0"/>
<rect x="886" y="507" width="1" height="33" fill="#c0c0c0"/>
<rect x="894" y="510" width="1" height="30" fill="#c0c0c0"/>
<rect x="902" y="512" width="1" height="28" fill="#c0c0c0"/>
<rect x="910" y="519" width="1" height="21" fill="#c0c0c0"/>
<rect x="918" y="528" width="1" height="12" fill="#c0c0c0"/>
<rect x="926" y="534" width="1" height="6" fill="#c0c0c0"/>
<rect x="934" y="533" width="1" height="7" fill="#c0c0c0"/>
<rect x="942" y="533" width="1" height="7" fill="#c0c0c0"/>
<rect x="950" y="537" width="1" height="3" fill="#c0c0c0"/>
<rect x="958" y="537" width="1" height="3" fill="#c0c0c0"/>
<rect x="966" y="536" width="1" height="4" fill="#c0c0c0"/>
<rect x="974" y="536" width="1" height="4" fill="#c0c0c0"/>
<rect x="982" y="536" width="1" height="4" fill="#c0c0c0"/>
<rect x="990" y="537" width="1" height="3" fill="#c0c0c0"/>
<rect x="998" y="536" width="1" height="4" fill="#c0c0c0"/>
<rect x="1006" y="532" width="1" height="8" fill="#c0c0c0"/>
<rect x="1014" y="527" width="1" height="13" fill="#c0c0c0"/>
<rect x="1022" y="519" width="1" height="21" fill="#c0c0c0"/>
<rect x="1030" y="512" width="1" height="28" fill="#c0c0c0"/>
<rect x="1038" y="509" width="1" height="31" fill="#c0c0c0"/>
<rect x="1046" y="504" width="1" height="36" fill="#c0c0c0"/>
<rect x="1054" y="506" width="1" height="34" fill="#c0c0c0"/>
<rect x="1062" y="508" width="1" height="32" fill="#c0c0c0"/>
<rect x="1070" y="510" width="1" height="30" fill="#c0c0c0"/>
<rect x="1078" y="512" width="1" height="28" fill="#c0c0c0"/>
<rect x="1086" y="514" width="1" height="26" fill="#c0c0c0"/>
<rect x="1094" y="514" width="1" height="26" fill="#c0c0c0"/>
<rect x="1102" y="514" width="1" height="26" fill="#c0c0c0"/>
<rect x="1110" y="517" width="1" height="23" fill="#c0c0c0"/>
<rect x="1118" y="516" width="1" height="24" fill="#c0c0c0"/>
<rect x="1126" y="517" width="1" height="23" fill="#c0c0c0"/>
<rect x="1134" y="515" width="1" height="25" fill="#c0c0c0"/>
<rect x="1142" y="516" width="1" height="24" fill="#c0c0c0"/>
<rect x="1150" y="513" width="1" height="27" fill="#c0c0c0"/>
<rect x="1158" y="508" width="1" height="32" fill="#c0c0c0"/>
<rect x="1166" y="501" width="1" height="39" fill="#c0c0c0"/>
<rect x="1174" y="490" width="1" height="50" fill="#c0c0c0"/>
<polyline points="4.0,586.50 6.5,586.50 9.0,586.50" fill="none" stroke="#ff0000" stroke-width="1" shape-rendering="crispEdges"/>
<polyline points="12.0,586.50 14.5,586.50 17.0,586.12" fill="none" stroke="#ff0000" stroke-width="1" shape-rendering="crispEdges"/>
<polyline points="20.0,585.52 22.5,585.30 25.0,584.74" fill="none" stroke="#ff0000" stroke-width="1" shape-rendering="crispEdges"/>
<polyline points="28.0,583.84 30.5,583.50 33.0,582.53" fill="none" stroke="#ff0000" stroke-width="1" shape-rendering="crispEdges"/>
<polyline points="36.0,580.98 38.5,580.40 41.0,579.46" fill="none" stroke="#ff0000" stroke-width="1" shape-rendering="crispEdges"/>
<polyline points="44.0,577.96 46.5,577.40 49.0,576.56" fill="none" stroke="#ff0000" stroke-width="1" shape-rendering="crispEdges"/>
<polyline points="52.0,575.21 54.5,574.70 57.0,573.33" fill="none" stroke="#ff0000" stroke-width="1" shape-rendering="crispEdges"/>
<polyline points="60.0,571.15 62.5,570.33 65.0,569.35" fill="none" stroke="#ff0000" stroke-width="1" shape-rendering="crispEdges"/>
<polyline points="68.0,567.79 70.5,567.20 73.0,566.32" fill="none" stroke="#ff0000" stroke-width="1" shape-rendering="crispEdges"/>
<polyline points="76.0,564.91 78.5,564.38 81.0,563.60" fill="none" stroke="#ff0000" stroke-width="1" shape-rendering="crispEdges"/>
<polyline points="84.0,562.34 86.5,561.86 89.0,561.17" fill="none" stroke="#ff0000" stroke-width="1" shape-rendering="crispEdges"/>
<polyline points="92.0,560.06 94.5,559.65 97.0,558.88" fill="none" stroke="#ff0000" stroke-width="1" shape-rendering="crispEdges"/>
<polyline points="100.0,557.66 102.5,557.20 105.0,556.40" fill="none" stroke="#ff0000" stroke-width="1" shape-rendering="crispEdges"/>
<polyline points="108.0,555.12 110.5,554.64 113.0,553.95" fill="none" stroke="#ff0000" stroke-width="1" shape-rendering="crispEdges"/>
<polyline points="116.0,552.86 118.5,552.45 121.0,551.83" fill="none" stroke="#ff0000" stroke-width="1" shape-rendering="crispEdges"/>
<polyline points="124.0,550.83 126.5,550.46 129.0,549.87" fill="none" stroke="#ff0000" stroke-width="1" shape-rendering="crispEdges"/>
<polyline points="132.0,548.93 134.5,548.58 137.0,548.08" fill="none" stroke="#ff0000" stroke-width="1" shape-rendering="crispEdges"/>
<polyline points="140.0,547.30 142.5,547.00 145.0,546.50" fill="none" stroke="#ff0000" stroke-width="1" shape-rendering="crispEdges"/>
<polyline points="148.0,545.70 150.5,545.39 153.0,544.89" fill="none" stroke="#ff0000" stroke-width="1" shape-rendering="crispEdges"/>
<polyline points="156.0,544.08 158.5,543.78 161.0,543.32" fill="none" stroke="#ff0000" stroke-width="1" shape-rendering="crispEdges"/>
<polyline points="164.0,542.59 166.5,542.31 169.0,542.04" fill="none" stroke="#ff0000" stroke-width="1" shape-rendering="crispEdges"/>
<polyline points="172.0,541.60 174.5,541.43 177.0,541.18" fill="none" stroke="#ff0000" stroke-width="1" shape-rendering="crispEdges"/>
<polyline points="180.0,540.79 182.5,540.64 185.0,540.56" fill="none" stroke="#ff0000" stroke-width="1" shape-rendering="crispEdges"/>
<polyline points="188.0,540.44 190.5,540.40 193.0,540.18" fill="none" stroke="#ff0000" stroke-width="1" shape-rendering="crispEdges"/>
<polyline points="196.0,539.83 198.5,539.70 201.0,539.55" fill="none" stroke="#ff0000" stroke-width="1" shape-rendering="crispEdges"/>
<polyline points="204.0,539.32 206.5,539.23 209.0,539.08" fill="none" stroke="#ff0000" stroke-width="1" shape-rendering="crispEdges"/>
<polyline points="212.0,538.85 214.5,538.76 217.0,538.57" fill="none" stroke="#ff0000" stroke-width="1" shape-rendering="crispEdges"/>
<polyline points="220.0,538.26 222.5,538.14 225.0,537.94" fill="none" stroke="#ff0000" stroke-width="1" shape-rendering="crispEdges"/>
<polyline points="228.0,537.62 230.5,537.50 233.0,537.15" fill="none" stroke="#ff0000" stroke-width="1" shape-rendering="crispEdges"/>
<polyline points="236.0,536.59 238.5,536.38 241.0,536.08" fill="none" stroke="#ff0000" stroke-width="1" shape-rendering="crispEdges"/>
<polyline points="244.0,535.60 246.5,535.42 249.0,535.06" fill="none" stroke="#ff0000" stroke-width="1" shape-rendering="crispEdges"/>
<polyline points="252.0,534.49 254.5,534.27 257.0,533.72" fill="none" stroke="#ff0000" stroke-width="1" shape-rendering="crispEdges"/>
<polyline points="260.0,532.83 262.5,532.50 265.0,532.15" fill="none" stroke="#ff0000" stroke-width="1" shape-rendering="crispEdges"/>
<polyline points="268.0,531.58 270.5,531.37 273.0,530.73" fill="none" stroke="#ff0000" stroke-width="1" shape-rendering="crispEdges"/>
<polyline points="276.0,529.72 278.5,529.34 281.0,528.96" fill="none" stroke="#ff0000" stroke-width="1" shape-rendering="crispEdges"/>
<polyline points="284.0,528.36 286.5,528.14 289.0,527.66" fill="none" stroke="#ff0000" stroke-width="1" shape-rendering="crispEdges"/>
<polyline points="292.0,526.90 294.5,526.62 297.0,526.28" fill="none" stroke="#ff0000" stroke-width="1" shape-rendering="crispEdges"/>
<polyline points="300.0,525.74 302.5,525.54 305.0,525.16" fill="none" stroke="#ff0000" stroke-width="1" shape-rendering="crispEdges"/>
<polyline points="308.0,524.56 310.5,524.34 313.0,523.80" fill="none" stroke="#ff0000" stroke-width="1" shape-rendering="crispEdges"/>
<polyline points="316.0,522.95 318.5,522.63 321.0,522.27" fill="none" stroke="#ff0000" stroke-width="1" shape-rendering="crispEdges"/>
<polyline points="324.0,521.71 326.5,521.49 329.0,521.21" fill="none" stroke="#ff0000" stroke-width="1" shape-rendering="crispEdges"/>
<polyline points="332.0,520.76 334.5,520.60 337.0,520.48" fill="none" stroke="#ff0000" stroke-width="1" shape-rendering="crispEdges"/>
<polyline points="340.0,520.29 342.5,520.22 345.0,519.99" fill="none" stroke="#ff0000" stroke-width="1" shape-rendering="crispEdges"/>
<polyline points="348.0,519.63 350.5,519.50 353.0,519.14" fill="none" stroke="#ff0000" stroke-width="1" shape-rendering="crispEdges"/>
<polyline points="356.0,518.56 358.5,518.35 361.0,518.10" fill="none" stroke="#ff0000" stroke-width="1" shape-rendering="crispEdges"/>
<polyline points="364.0,517.71 366.5,517.56 369.0,517.51" fill="none" stroke="#ff0000" stroke-width="1" shape-rendering="crispEdges"/>
<polyline points="372.0,517.43 374.5,517.40 377.0,517.17" fill="none" stroke="#ff0000" stroke-width="1" shape-rendering="crispEdges"/>
<polyline points="380.0,516.81 382.5,516.68 385.0,516.65" fill="none" stroke="#ff0000" stroke-width="1" shape-rendering="crispEdges"/>
<polyline points="388.0,516.61 390.5,516.60 393.0,516.60" fill="none" stroke="#ff0000" stroke-width="1" shape-rendering="crispEdges"/>
<polyline points="396.0,516.60 398.5,516.60 401.0,516.60" fill="none" stroke="#ff0000" stroke-width="1" shape-rendering="crispEdges"/>
<polyline points="404.0,516.60 406.5,516.60 409.0,516.60" fill="none" stroke="#ff0000" stroke-width="1" shape-rendering="crispEdges"/>
<polyline points="412.0,516.60 414.5,516.60 417.0,516.85" fill="none" stroke="#ff0000" stroke-width="1" shape-rendering="crispEdges"/>
<polyline points="420.0,517.26 422.5,517.41 425.0,517.72" fill="none" stroke="#ff0000" stroke-width="1" shape-rendering="crispEdges"/>
<polyline points="428.0,518.21 430.5,518.40 433.0,518.65" fill="none" stroke="#ff0000" stroke-width="1" shape-rendering="crispEdges"/>
<polyline points="436.0,519.06 438.5,519.21 441.0,519.49" fill="none" stroke="#ff0000" stroke-width="1" shape-rendering="crispEdges"/>
<polyline points="444.0,519.93 446.5,520.09 449.0,519.97" fill="none" stroke="#ff0000" stroke-width="1" shape-rendering="crispEdges"/>
<polyline points="452.0,519.77 454.5,519.70 457.0,519.42" fill="none" stroke="#ff0000" stroke-width="1" shape-rendering="crispEdges"/>
<polyline points="460.0,518.98 462.5,518.81 465.0,518.44" fill="none" stroke="#ff0000" stroke-width="1" shape-rendering="crispEdges"/>
<polyline points="468.0,517.84 470.5,517.62 473.0,516.95" fill="none" stroke="#ff0000" stroke-width="1" shape-rendering="crispEdges"/>
<polyline points="476.0,515.89 478.5,515.49 481.0,514.87" fill="none" stroke="#ff0000" stroke-width="1" shape-rendering="crispEdges"/>
<polyline points="484.0,513.88 486.5,513.51 489.0,512.38" fill="none" stroke="#ff0000" stroke-width="1" shape-rendering="crispEdges"/>
<polyline points="492.0,510.58 494.5,509.90 497.0,508.65" fill="none" stroke="#ff0000" stroke-width="1" shape-rendering="crispEdges"/>
<polyline points="500.0,506.65 502.5,505.90 505.0,504.88" fill="none" stroke="#ff0000" stroke-width="1" shape-rendering="crispEdges"/>
<polyline points="508.0,503.24 510.5,502.62 513.0,501.62" fill="none" stroke="#ff0000" stroke-width="1" shape-rendering="crispEdges"/>
<polyline points="516.0,500.01 518.5,499.40 521.0,498.84" fill="none" stroke="#ff0000" stroke-width="1" shape-rendering="crispEdges"/>
<polyline points="524.0,497.94 526.5,497.60 529.0,497.29" fill="none" stroke="#ff0000" stroke-width="1" shape-rendering="crispEdges"/>
<polyline points="532.0,496.80 534.5,496.61 537.0,496.55" fill="none" stroke="#ff0000" stroke-width="1" shape-rendering="crispEdges"/>
<polyline points="540.0,496.44 542.5,496.40 545.0,496.40" fill="none" stroke="#ff0000" stroke-width="1" shape-rendering="crispEdges"/>
<polyline points="548.0,496.40 550.5,496.40 553.0,496.92" fill="none" stroke="#ff0000" stroke-width="1" shape-rendering="crispEdges"/>
<polyline points="556.0,497.75 558.5,498.06 561.0,498.59" fill="none" stroke="#ff0000" stroke-width="1" shape-rendering="crispEdges"/>
<polyline points="564.0,499.44 566.5,499.76 569.0,500.42" fill="none" stroke="#ff0000" stroke-width="1" shape-rendering="crispEdges"/>
<polyline points="572.0,501.48 574.5,501.88 577.0,502.76" fill="none" stroke="#ff0000" stroke-width="1" shape-rendering="crispEdges"/>
<polyline points="580.0,504.17 582.5,504.70 585.0,505.79" fill="none" stroke="#ff0000" stroke-width="1" shape-rendering="crispEdges"/>
<polyline points="588.0,507.54 590.5,508.20 593.0,508.79" fill="none" stroke="#ff0000" stroke-width="1" shape-rendering="crispEdges"/>
<polyline points="596.0,509.73 598.5,510.08 601.0,510.48" fill="none" stroke="#ff0000" stroke-width="1" shape-rendering="crispEdges"/>
<polyline points="604.0,511.12 606.5,511.36 609.0,511.40" fill="none" stroke="#ff0000" stroke-width="1" shape-rendering="crispEdges"/>
<polyline points="612.0,511.47 614.5,511.50 617.0,511.50" fill="none" stroke="#ff0000" stroke-width="1" shape-rendering="crispEdges"/>
<polyline points="620.0,511.50 622.5,511.50 625.0,510.91" fill="none" stroke="#ff0000" stroke-width="1" shape-rendering="crispEdges"/>
<polyline points="628.0,509.97 630.5,509.62 633.0,508.95" fill="none" stroke="#ff0000" stroke-width="1" shape-rendering="crispEdges"/>
<polyline points="636.0,507.89 638.5,507.49 641.0,506.49" fill="none" stroke="#ff0000" stroke-width="1" shape-rendering="crispEdges"/>
<polyline points="644.0,504.89 646.5,504.29 649.0,503.39" fill="none" stroke="#ff0000" stroke-width="1" shape-rendering="crispEdges"/>
<polyline points="652.0,501.96 654.5,501.43 657.0,500.54" fill="none" stroke="#ff0000" stroke-width="1" shape-rendering="crispEdges"/>
<polyline points="660.0,499.11 662.5,498.57 665.0,497.85" fill="none" stroke="#ff0000" stroke-width="1" shape-rendering="crispEdges"/>
<polyline points="668.0,496.70 670.5,496.27 673.0,495.69" fill="none" stroke="#ff0000" stroke-width="1" shape-rendering="crispEdges"/>
<polyline points="676.0,494.75 678.5,494.40 681.0,493.88" fill="none" stroke="#ff0000" stroke-width="1" shape-rendering="crispEdges"/>
<polyline points="684.0,493.06 686.5,492.75 689.0,492.33" fill="none" stroke="#ff0000" stroke-width="1" shape-rendering="crispEdges"/>
<polyline points="692.0,491.65 694.5,491.40 697.0,491.16" fill="none" stroke="#ff0000" stroke-width="1" shape-rendering="crispEdges"/>
<polyline points="700.0,490.78 702.5,490.64 705.0,490.63" fill="none" stroke="#ff0000" stroke-width="1" shape-rendering="crispEdges"/>
<polyline points="708.0,490.61 710.5,490.60 713.0,490.81" fill="none" stroke="#ff0000" stroke-width="1" shape-rendering="crispEdges"/>
<polyline points="716.0,491.13 718.5,491.26 721.0,491.93" fill="none" stroke="#ff0000" stroke-width="1" shape-rendering="crispEdges"/>
<polyline points="724.0,493.00 726.5,493.40 729.0,493.70" fill="none" stroke="#ff0000" stroke-width="1" shape-rendering="crispEdges"/>
<polyline points="732.0,494.18 734.5,494.36 737.0,494.63" fill="none" stroke="#ff0000" stroke-width="1" shape-rendering="crispEdges"/>
<polyline points="740.0,495.06 742.5,495.23 745.0,495.33" fill="none" stroke="#ff0000" stroke-width="1" shape-rendering="crispEdges"/>
<polyline points="748.0,495.50 750.5,495.56 753.0,495.78" fill="none" stroke="#ff0000" stroke-width="1" shape-rendering="crispEdges"/>
<polyline points="756.0,496.13 758.5,496.27 761.0,496.56" fill="none" stroke="#ff0000" stroke-width="1" shape-rendering="crispEdges"/>
<polyline points="764.0,497.04 766.5,497.21 769.0,497.57" fill="none" stroke="#ff0000" stroke-width="1" shape-rendering="crispEdges"/>
<polyline points="772.0,498.14 774.5,498.36 777.0,498.91" fill="none" stroke="#ff0000" stroke-width="1" shape-rendering="crispEdges"/>
<polyline points="780.0,499.80 782.5,500.13 785.0,500.56" fill="none" stroke="#ff0000" stroke-width="1" shape-rendering="crispEdges"/>
<polyline points="788.0,501.24 790.5,501.50 793.0,501.73" fill="none" stroke="#ff0000" stroke-width="1" shape-rendering="crispEdges"/>
<polyline points="796.0,502.10 798.5,502.24 801.0,502.87" fill="none" stroke="#ff0000" stroke-width="1" shape-rendering="crispEdges"/>
<polyline points="804.0,503.86 806.5,504.24 809.0,504.85" fill="none" stroke="#ff0000" stroke-width="1" shape-rendering="crispEdges"/>
<polyline points="812.0,505.82 814.5,506.19 817.0,506.84" fill="none" stroke="#ff0000" stroke-width="1" shape-rendering="crispEdges"/>
<polyline points="820.0,507.87 822.5,508.26 825.0,508.99" fill="none" stroke="#ff0000" stroke-width="1" shape-rendering="crispEdges"/>
<polyline points="828.0,510.15 830.5,510.58 833.0,510.85" fill="none" stroke="#ff0000" stroke-width="1" shape-rendering="crispEdges"/>
<polyline points="836.0,511.27 838.5,511.42 841.0,511.69" fill="none" stroke="#ff0000" stroke-width="1" shape-rendering="crispEdges"/>
<polyline points="844.0,512.11 846.5,512.27 849.0,511.97" fill="none" stroke="#ff0000" stroke-width="1" shape-rendering="crispEdges"/>
<polyline points="852.0,511.49 854.5,511.31 857.0,510.47" fill="none" stroke="#ff0000" stroke-width="1" shape-rendering="crispEdges"/>
<polyline points="860.0,509.11 862.5,508.61 865.0,507.62" fill="none" stroke="#ff0000" stroke-width="1" shape-rendering="crispEdges"/>
<polyline points="868.0,506.03 870.5,505.44 873.0,505.17" fill="none" stroke="#ff0000" stroke-width="1" shape-rendering="crispEdges"/>
<polyline points="876.0,504.74 878.5,504.58 881.0,504.19" fill="none" stroke="#ff0000" stroke-width="1" shape-rendering="crispEdges"/>
<polyline points="884.0,503.57 886.5,503.33 889.0,503.06" fill="none" stroke="#ff0000" stroke-width="1" shape-rendering="crispEdges"/>
<polyline points="892.0,502.63 894.5,502.47 897.0,502.19" fill="none" stroke="#ff0000" stroke-width="1" shape-rendering="crispEdges"/>
<polyline points="900.0,501.73 902.5,501.56 905.0,501.76" fill="none" stroke="#ff0000" stroke-width="1" shape-rendering="crispEdges"/>
<polyline points="908.0,502.09 910.5,502.21 913.0,502.89" fill="none" stroke="#ff0000" stroke-width="1" shape-rendering="crispEdges"/>
<polyline points="916.0,503.98 918.5,504.38 921.0,505.58" fill="none" stroke="#ff0000" stroke-width="1" shape-rendering="crispEdges"/>
<polyline points="924.0,507.48 926.5,508.20 929.0,509.93" fill="none" stroke="#ff0000" stroke-width="1" shape-rendering="crispEdges"/>
<polyline points="932.0,512.69 934.5,513.72 937.0,515.26" fill="none" stroke="#ff0000" stroke-width="1" shape-rendering="crispEdges"/>
<polyline points="940.0,517.73 942.5,518.65 945.0,519.91" fill="none" stroke="#ff0000" stroke-width="1" shape-rendering="crispEdges"/>
<polyline points="948.0,521.92 950.5,522.68 953.0,523.83" fill="none" stroke="#ff0000" stroke-width="1" shape-rendering="crispEdges"/>
<polyline points="956.0,525.67 958.5,526.36 961.0,527.14" fill="none" stroke="#ff0000" stroke-width="1" shape-rendering="crispEdges"/>
<polyline points="964.0,528.38 966.5,528.85 969.0,529.80" fill="none" stroke="#ff0000" stroke-width="1" shape-rendering="crispEdges"/>
<polyline points="972.0,531.32 974.5,531.88 977.0,532.61" fill="none" stroke="#ff0000" stroke-width="1" shape-rendering="crispEdges"/>
<polyline points="980.0,533.78 982.5,534.21 985.0,534.55" fill="none" stroke="#ff0000" stroke-width="1" shape-rendering="crispEdges"/>
<polyline points="988.0,535.10 990.5,535.30 993.0,535.30" fill="none" stroke="#ff0000" stroke-width="1" shape-rendering="crispEdges"/>
<polyline points="996.0,535.30 998.5,535.30 1001.0,535.30" fill="none" stroke="#ff0000" stroke-width="1" shape-rendering="crispEdges"/>
<polyline points="1004.0,535.30 1006.5,535.30 1009.0,534.98" fill="none" stroke="#ff0000" stroke-width="1" shape-rendering="crispEdges"/>
<polyline points="1012.0,534.47 1014.5,534.27 1017.0,533.56" fill="none" stroke="#ff0000" stroke-width="1" shape-rendering="crispEdges"/>
<polyline points="1020.0,532.43 1022.5,532.00 1025.0,531.15" fill="none" stroke="#ff0000" stroke-width="1" shape-rendering="crispEdges"/>
<polyline points="1028.0,529.78 1030.5,529.27 1033.0,528.44" fill="none" stroke="#ff0000" stroke-width="1" shape-rendering="crispEdges"/>
<polyline points="1036.0,527.10 1038.5,526.60 1041.0,525.50" fill="none" stroke="#ff0000" stroke-width="1" shape-rendering="crispEdges"/>
<polyline points="1044.0,523.74 1046.5,523.08 1049.0,521.95" fill="none" stroke="#ff0000" stroke-width="1" shape-rendering="crispEdges"/>
<polyline points="1052.0,520.14 1054.5,519.46 1057.0,518.48" fill="none" stroke="#ff0000" stroke-width="1" shape-rendering="crispEdges"/>
<polyline points="1060.0,516.91 1062.5,516.32 1065.0,515.51" fill="none" stroke="#ff0000" stroke-width="1" shape-rendering="crispEdges"/>
<polyline points="1068.0,514.21 1070.5,513.73 1073.0,513.02" fill="none" stroke="#ff0000" stroke-width="1" shape-rendering="crispEdges"/>
<polyline points="1076.0,511.90 1078.5,511.48 1081.0,510.86" fill="none" stroke="#ff0000" stroke-width="1" shape-rendering="crispEdges"/>
<polyline points="1084.0,509.87 1086.5,509.50 1089.0,509.50" fill="none" stroke="#ff0000" stroke-width="1" shape-rendering="crispEdges"/>
<polyline points="1092.0,509.50 1094.5,509.50 1097.0,509.50" fill="none" stroke="#ff0000" stroke-width="1" shape-rendering="crispEdges"/>
<polyline points="1100.0,509.50 1102.5,509.50 1105.0,509.69" fill="none" stroke="#ff0000" stroke-width="1" shape-rendering="crispEdges"/>
<polyline points="1108.0,510.00 1110.5,510.12 1113.0,510.41" fill="none" stroke="#ff0000" stroke-width="1" shape-rendering="crispEdges"/>
<polyline points="1116.0,510.87 1118.5,511.04 1121.0,511.75" fill="none" stroke="#ff0000" stroke-width="1" shape-rendering="crispEdges"/>
<polyline points="1124.0,512.88 1126.5,513.30 1129.0,513.30" fill="none" stroke="#ff0000" stroke-width="1" shape-rendering="crispEdges"/>
<polyline points="1132.0,513.30 1134.5,513.30 1137.0,513.58" fill="none" stroke="#ff0000" stroke-width="1" shape-rendering="crispEdges"/>
<polyline points="1140.0,514.04 1142.5,514.20 1145.0,514.23" fill="none" stroke="#ff0000" stroke-width="1" shape-rendering="crispEdges"/>
<polyline points="1148.0,514.28 1150.5,514.30 1153.0,514.05" fill="none" stroke="#ff0000" stroke-width="1" shape-rendering="crispEdges"/>
<polyline points="1156.0,513.65 1158.5,513.50 1161.0,513.34" fill="none" stroke="#ff0000" stroke-width="1" shape-rendering="crispEdges"/>
<polyline points="1164.0,513.09 1166.5,513.00 1169.0,511.81" fill="none" stroke="#ff0000" stroke-width="1" shape-rendering="crispEdges"/>
<polyline points="1172.0,509.91 1175.0,509.20" fill="none" stroke="#ff0000" stroke-width="1" shape-rendering="crispEdges"/>
</g>
<g style="will-change:transform"><text x="10" y="491" font-size="9.5" fill="#000" font-family='"Liberation Sans", Arial, sans-serif' stroke="#000" stroke-width="0.2" textLength="122.5" lengthAdjust="spacingAndGlyphs">MACD(12,26,9) 12.791 7.593</text></g>
<g clip-path="url(#cr)">
<path d="M7,617.5h3M13,617.5h3M19,617.5h3M25,617.5h3M31,617.5h3M37,617.5h3M43,617.5h3M49,617.5h3M55,617.5h3M61,617.5h3M67,617.5h3M73,617.5h3M79,617.5h3M85,617.5h3M91,617.5h3M97,617.5h3M103,617.5h3M109,617.5h3M115,617.5h3M121,617.5h3M127,617.5h3M133,617.5h3M139,617.5h3M145,617.5h3M151,617.5h3M157,617.5h3M163,617.5h3M169,617.5h3M175,617.5h3M181,617.5h3M187,617.5h3M193,617.5h3M199,617.5h3M205,617.5h3M211,617.5h3M217,617.5h3M223,617.5h3M229,617.5h3M235,617.5h3M241,617.5h3M247,617.5h3M253,617.5h3M259,617.5h3M265,617.5h3M271,617.5h3M277,617.5h3M283,617.5h3M289,617.5h3M295,617.5h3M301,617.5h3M307,617.5h3M313,617.5h3M319,617.5h3M325,617.5h3M331,617.5h3M337,617.5h3M343,617.5h3M349,617.5h3M355,617.5h3M361,617.5h3M367,617.5h3M373,617.5h3M379,617.5h3M385,617.5h3M391,617.5h3M397,617.5h3M403,617.5h3M409,617.5h3M415,617.5h3M421,617.5h3M427,617.5h3M433,617.5h3M439,617.5h3M445,617.5h3M451,617.5h3M457,617.5h3M463,617.5h3M469,617.5h3M475,617.5h3M481,617.5h3M487,617.5h3M493,617.5h3M499,617.5h3M505,617.5h3M511,617.5h3M517,617.5h3M523,617.5h3M529,617.5h3M535,617.5h3M541,617.5h3M547,617.5h3M553,617.5h3M559,617.5h3M565,617.5h3M571,617.5h3M577,617.5h3M583,617.5h3M589,617.5h3M595,617.5h3M601,617.5h3M607,617.5h3M613,617.5h3M619,617.5h3M625,617.5h3M631,617.5h3M637,617.5h3M643,617.5h3M649,617.5h3M655,617.5h3M661,617.5h3M667,617.5h3M673,617.5h3M679,617.5h3M685,617.5h3M691,617.5h3M697,617.5h3M703,617.5h3M709,617.5h3M715,617.5h3M721,617.5h3M727,617.5h3M733,617.5h3M739,617.5h3M745,617.5h3M751,617.5h3M757,617.5h3M763,617.5h3M769,617.5h3M775,617.5h3M781,617.5h3M787,617.5h3M793,617.5h3M799,617.5h3M805,617.5h3M811,617.5h3M817,617.5h3M823,617.5h3M829,617.5h3M835,617.5h3M841,617.5h3M847,617.5h3M853,617.5h3M859,617.5h3M865,617.5h3M871,617.5h3M877,617.5h3M883,617.5h3M889,617.5h3M895,617.5h3M901,617.5h3M907,617.5h3M913,617.5h3M919,617.5h3M925,617.5h3M931,617.5h3M937,617.5h3M943,617.5h3M949,617.5h3M955,617.5h3M961,617.5h3M967,617.5h3M973,617.5h3M979,617.5h3M985,617.5h3M991,617.5h3M997,617.5h3M1003,617.5h3M1009,617.5h3M1015,617.5h3M1021,617.5h3M1027,617.5h3M1033,617.5h3M1039,617.5h3M1045,617.5h3M1051,617.5h3M1057,617.5h3M1063,617.5h3M1069,617.5h3M1075,617.5h3M1081,617.5h3M1087,617.5h3M1093,617.5h3M1099,617.5h3M1105,617.5h3M1111,617.5h3M1117,617.5h3M1123,617.5h3M1129,617.5h3M1135,617.5h3M1141,617.5h3M1147,617.5h3M1153,617.5h3M1159,617.5h3M1165,617.5h3M1171,617.5h3M1177,617.5h3M1183,617.5h3M1189,617.5h3" stroke="#c0c0c0" stroke-width="1" shape-rendering="crispEdges"/>
<path d="M7,646.5h3M13,646.5h3M19,646.5h3M25,646.5h3M31,646.5h3M37,646.5h3M43,646.5h3M49,646.5h3M55,646.5h3M61,646.5h3M67,646.5h3M73,646.5h3M79,646.5h3M85,646.5h3M91,646.5h3M97,646.5h3M103,646.5h3M109,646.5h3M115,646.5h3M121,646.5h3M127,646.5h3M133,646.5h3M139,646.5h3M145,646.5h3M151,646.5h3M157,646.5h3M163,646.5h3M169,646.5h3M175,646.5h3M181,646.5h3M187,646.5h3M193,646.5h3M199,646.5h3M205,646.5h3M211,646.5h3M217,646.5h3M223,646.5h3M229,646.5h3M235,646.5h3M241,646.5h3M247,646.5h3M253,646.5h3M259,646.5h3M265,646.5h3M271,646.5h3M277,646.5h3M283,646.5h3M289,646.5h3M295,646.5h3M301,646.5h3M307,646.5h3M313,646.5h3M319,646.5h3M325,646.5h3M331,646.5h3M337,646.5h3M343,646.5h3M349,646.5h3M355,646.5h3M361,646.5h3M367,646.5h3M373,646.5h3M379,646.5h3M385,646.5h3M391,646.5h3M397,646.5h3M403,646.5h3M409,646.5h3M415,646.5h3M421,646.5h3M427,646.5h3M433,646.5h3M439,646.5h3M445,646.5h3M451,646.5h3M457,646.5h3M463,646.5h3M469,646.5h3M475,646.5h3M481,646.5h3M487,646.5h3M493,646.5h3M499,646.5h3M505,646.5h3M511,646.5h3M517,646.5h3M523,646.5h3M529,646.5h3M535,646.5h3M541,646.5h3M547,646.5h3M553,646.5h3M559,646.5h3M565,646.5h3M571,646.5h3M577,646.5h3M583,646.5h3M589,646.5h3M595,646.5h3M601,646.5h3M607,646.5h3M613,646.5h3M619,646.5h3M625,646.5h3M631,646.5h3M637,646.5h3M643,646.5h3M649,646.5h3M655,646.5h3M661,646.5h3M667,646.5h3M673,646.5h3M679,646.5h3M685,646.5h3M691,646.5h3M697,646.5h3M703,646.5h3M709,646.5h3M715,646.5h3M721,646.5h3M727,646.5h3M733,646.5h3M739,646.5h3M745,646.5h3M751,646.5h3M757,646.5h3M763,646.5h3M769,646.5h3M775,646.5h3M781,646.5h3M787,646.5h3M793,646.5h3M799,646.5h3M805,646.5h3M811,646.5h3M817,646.5h3M823,646.5h3M829,646.5h3M835,646.5h3M841,646.5h3M847,646.5h3M853,646.5h3M859,646.5h3M865,646.5h3M871,646.5h3M877,646.5h3M883,646.5h3M889,646.5h3M895,646.5h3M901,646.5h3M907,646.5h3M913,646.5h3M919,646.5h3M925,646.5h3M931,646.5h3M937,646.5h3M943,646.5h3M949,646.5h3M955,646.5h3M961,646.5h3M967,646.5h3M973,646.5h3M979,646.5h3M985,646.5h3M991,646.5h3M997,646.5h3M1003,646.5h3M1009,646.5h3M1015,646.5h3M1021,646.5h3M1027,646.5h3M1033,646.5h3M1039,646.5h3M1045,646.5h3M1051,646.5h3M1057,646.5h3M1063,646.5h3M1069,646.5h3M1075,646.5h3M1081,646.5h3M1087,646.5h3M1093,646.5h3M1099,646.5h3M1105,646.5h3M1111,646.5h3M1117,646.5h3M1123,646.5h3M1129,646.5h3M1135,646.5h3M1141,646.5h3M1147,646.5h3M1153,646.5h3M1159,646.5h3M1165,646.5h3M1171,646.5h3M1177,646.5h3M1183,646.5h3M1189,646.5h3" stroke="#c0c0c0" stroke-width="1" shape-rendering="crispEdges"/>
<polyline points="6.5,638.40 14.5,637.20 22.5,637.20 30.5,638.40 38.5,632.70 46.5,631.40 54.5,632.40 62.5,635.30 70.5,634.30 78.5,636.30 86.5,637.20 94.5,632.40 102.5,628.20 110.5,629.20 118.5,628.20 126.5,629.50 134.5,631.40 142.5,632.40 150.5,632.40 158.5,631.40 166.5,630.30 174.5,629.20 182.5,628.20 190.5,625.20 198.5,633.30 206.5,630.80 214.5,627.50 222.5,627.50 230.5,625.50 238.5,624.30 246.5,622.20 254.5,618.20 262.5,618.50 270.5,618.20 278.5,625.50 286.5,624.30 294.5,619.50 302.5,618.20 310.5,619.50 318.5,618.20 326.5,620.10 334.5,619.00 342.5,618.50 350.5,615.30 358.5,616.60 366.5,615.30 374.5,615.30 382.5,619.50 390.5,616.30 398.5,624.60 406.5,628.20 414.5,631.40 422.5,629.50 430.5,628.20 438.5,620.60 446.5,611.40 454.5,611.40 462.5,617.40 470.5,617.40 478.5,616.60 486.5,612.50 494.5,612.50 502.5,611.40 510.5,609.60 518.5,610.50 526.5,629.20 534.5,631.10 542.5,628.20 550.5,629.20 558.5,629.20 566.5,628.20 574.5,627.10 582.5,624.60 590.5,621.40 598.5,621.40 606.5,619.50 614.5,618.50 622.5,616.60 630.5,612.50 638.5,611.40 646.5,611.40 654.5,618.50 662.5,618.50 670.5,619.50 678.5,618.50 686.5,617.40 694.5,614.20 702.5,619.80 710.5,624.30 718.5,623.40 726.5,622.20 734.5,621.40 742.5,617.40 750.5,617.40 758.5,617.40 766.5,628.20 774.5,626.60 782.5,625.50 790.5,627.50 798.5,626.60 806.5,629.20 814.5,629.20 822.5,623.80 830.5,623.40 838.5,621.40 846.5,614.60 854.5,610.90 862.5,609.30 870.5,623.80 878.5,636.30 886.5,631.40 894.5,630.30 902.5,630.30 910.5,633.50 918.5,636.30 926.5,635.10 934.5,630.80 942.5,631.40 950.5,633.20 958.5,631.40 966.5,630.40 974.5,631.40 982.5,631.40 990.5,631.40 998.5,629.80 1006.5,626.50 1014.5,625.10 1022.5,621.50 1030.5,621.20 1038.5,623.50 1046.5,621.50 1054.5,627.50 1062.5,628.40 1070.5,628.40 1078.5,628.40 1086.5,628.40 1094.5,627.50 1102.5,626.50 1110.5,629.40 1118.5,626.50 1126.5,625.90 1134.5,624.50 1142.5,625.90 1150.5,622.50 1158.5,619.60 1166.5,616.60 1174.5,612.70" fill="none" stroke="#1e90ff" stroke-width="1" shape-rendering="crispEdges"/>
</g>
<g style="will-change:transform"><text x="10" y="607" font-size="9.5" fill="#000" font-family='"Liberation Sans", Arial, sans-serif' stroke="#000" stroke-width="0.2" textLength="67.5" lengthAdjust="spacingAndGlyphs">RSI(14) 76.5097</text></g>
<rect x="5" y="7" width="1189" height="1" fill="#000"/>
<rect x="5" y="476" width="1189" height="1" fill="#000"/>
<rect x="5" y="7" width="1" height="470" fill="#000"/>
<rect x="1193" y="7" width="1" height="470" fill="#000"/>
<rect x="5" y="478" width="1189" height="1" fill="#000"/>
<rect x="5" y="592" width="1189" height="1" fill="#000"/>
<rect x="5" y="478" width="1" height="115" fill="#000"/>
<rect x="1193" y="478" width="1" height="115" fill="#000"/>
<rect x="5" y="594" width="1189" height="1" fill="#000"/>
<rect x="5" y="668" width="1189" height="1" fill="#000"/>
<rect x="5" y="594" width="1" height="75" fill="#000"/>
<rect x="1193" y="594" width="1" height="75" fill="#000"/>
<rect x="5" y="63" width="1189" height="2" fill="#00cc00"/>
<rect x="5" y="128" width="1189" height="2" fill="#3a50e0"/>
<rect x="5" y="192" width="1189" height="2" fill="#3a50e0"/>
<rect x="1194" y="11" width="2" height="1" fill="#000"/>
<g style="will-change:transform"><text x="1200" y="15" font-size="9.5" fill="#000" font-family='"Liberation Sans", Arial, sans-serif' stroke="#000" stroke-width="0.2" textLength="31.5" lengthAdjust="spacingAndGlyphs">1999.85</text></g>
<rect x="1194" y="44" width="2" height="1" fill="#000"/>
<g style="will-change:transform"><text x="1200" y="48" font-size="9.5" fill="#000" font-family='"Liberation Sans", Arial, sans-serif' stroke="#000" stroke-width="0.2" textLength="31.5" lengthAdjust="spacingAndGlyphs">1984.55</text></g>
<rect x="1194" y="77" width="2" height="1" fill="#000"/>
<g style="will-change:transform"><text x="1200" y="81" font-size="9.5" fill="#000" font-family='"Liberation Sans", Arial, sans-serif' stroke="#000" stroke-width="0.2" textLength="31.5" lengthAdjust="spacingAndGlyphs">1969.25</text></g>
<rect x="1194" y="110" width="2" height="1" fill="#000"/>
<g style="will-change:transform"><text x="1200" y="114" font-size="9.5" fill="#000" font-family='"Liberation Sans", Arial, sans-serif' stroke="#000" stroke-width="0.2" textLength="31.5" lengthAdjust="spacingAndGlyphs">1953.95</text></g>
<rect x="1194" y="143" width="2" height="1" fill="#000"/>
<g style="will-change:transform"><text x="1200" y="147" font-size="9.5" fill="#000" font-family='"Liberation Sans", Arial, sans-serif' stroke="#000" stroke-width="0.2" textLength="31.5" lengthAdjust="spacingAndGlyphs">1938.20</text></g>
<rect x="1194" y="176" width="2" height="1" fill="#000"/>
<g style="will-change:transform"><text x="1200" y="180" font-size="9.5" fill="#000" font-family='"Liberation Sans", Arial, sans-serif' stroke="#000" stroke-width="0.2" textLength="31.5" lengthAdjust="spacingAndGlyphs">1922.90</text></g>
<rect x="1194" y="209" width="2" height="1" fill="#000"/>
<g style="will-change:transform"><text x="1200" y="213" font-size="9.5" fill="#000" font-family='"Liberation Sans", Arial, sans-serif' stroke="#000" stroke-width="0.2" textLength="31.5" lengthAdjust="spacingAndGlyphs">1907.60</text></g>
<rect x="1194" y="242" width="2" height="1" fill="#000"/>
<g style="will-change:transform"><text x="1200" y="246" font-size="9.5" fill="#000" font-family='"Liberation Sans", Arial, sans-serif' stroke="#000" stroke-width="0.2" textLength="31.5" lengthAdjust="spacingAndGlyphs">1892.30</text></g>
<rect x="1194" y="275" width="2" height="1" fill="#000"/>
<g style="will-change:transform"><text x="1200" y="279" font-size="9.5" fill="#000" font-family='"Liberation Sans", Arial, sans-serif' stroke="#000" stroke-width="0.2" textLength="31.5" lengthAdjust="spacingAndGlyphs">1877.00</text></g>
<rect x="1194" y="308" width="2" height="1" fill="#000"/>
<g style="will-change:transform"><text x="1200" y="312" font-size="9.5" fill="#000" font-family='"Liberation Sans", Arial, sans-serif' stroke="#000" stroke-width="0.2" textLength="31.5" lengthAdjust="spacingAndGlyphs">1861.25</text></g>
<rect x="1194" y="341" width="2" height="1" fill="#000"/>
<g style="will-change:transform"><text x="1200" y="345" font-size="9.5" fill="#000" font-family='"Liberation Sans", Arial, sans-serif' stroke="#000" stroke-width="0.2" textLength="31.5" lengthAdjust="spacingAndGlyphs">1845.95</text></g>
<rect x="1194" y="374" width="2" height="1" fill="#000"/>
<g style="will-change:transform"><text x="1200" y="378" font-size="9.5" fill="#000" font-family='"Liberation Sans", Arial, sans-serif' stroke="#000" stroke-width="0.2" textLength="31.5" lengthAdjust="spacingAndGlyphs">1830.65</text></g>
<rect x="1194" y="407" width="2" height="1" fill="#000"/>
<g style="will-change:transform"><text x="1200" y="411" font-size="9.5" fill="#000" font-family='"Liberation Sans", Arial, sans-serif' stroke="#000" stroke-width="0.2" textLength="31.5" lengthAdjust="spacingAndGlyphs">1815.35</text></g>
<rect x="1194" y="440" width="2" height="1" fill="#000"/>
<g style="will-change:transform"><text x="1200" y="444" font-size="9.5" fill="#000" font-family='"Liberation Sans", Arial, sans-serif' stroke="#000" stroke-width="0.2" textLength="31.5" lengthAdjust="spacingAndGlyphs">1800.05</text></g>
<rect x="1194" y="473" width="2" height="1" fill="#000"/>
<g style="will-change:transform"><text x="1200" y="477" font-size="9.5" fill="#000" font-family='"Liberation Sans", Arial, sans-serif' stroke="#000" stroke-width="0.2" textLength="31.5" lengthAdjust="spacingAndGlyphs">1784.75</text></g>
<rect x="1196" y="33" width="39" height="11" fill="#000000"/>
<g style="will-change:transform"><text x="1200" y="42" font-size="9.5" fill="#fff" font-family='"Liberation Sans", Arial, sans-serif' stroke="#fff" stroke-width="0.2" textLength="31.5" lengthAdjust="spacingAndGlyphs">1987.12</text></g>
<rect x="1196" y="58" width="39" height="11" fill="#00cc00"/>
<g style="will-change:transform"><text x="1200" y="67" font-size="9.5" fill="#fff" font-family='"Liberation Sans", Arial, sans-serif' stroke="#fff" stroke-width="0.2" textLength="31.5" lengthAdjust="spacingAndGlyphs">1975.00</text></g>
<rect x="1196" y="123" width="39" height="11" fill="#4158e1"/>
<g style="will-change:transform"><text x="1200" y="132" font-size="9.5" fill="#fff" font-family='"Liberation Sans", Arial, sans-serif' stroke="#fff" stroke-width="0.2" textLength="31.5" lengthAdjust="spacingAndGlyphs">1945.00</text></g>
<rect x="1196" y="187" width="39" height="11" fill="#4158e1"/>
<g style="will-change:transform"><text x="1200" y="196" font-size="9.5" fill="#fff" font-family='"Liberation Sans", Arial, sans-serif' stroke="#fff" stroke-width="0.2" textLength="31.5" lengthAdjust="spacingAndGlyphs">1915.00</text></g>
<g style="will-change:transform"><text x="1198" y="489" font-size="9.5" fill="#000" font-family='"Liberation Sans", Arial, sans-serif' stroke="#000" stroke-width="0.2" textLength="26.0" lengthAdjust="spacingAndGlyphs">15.227</text></g>
<rect x="1194" y="539" width="2" height="1" fill="#000"/>
<g style="will-change:transform"><text x="1198" y="543" font-size="9.5" fill="#000" font-family='"Liberation Sans", Arial, sans-serif' stroke="#000" stroke-width="0.2" textLength="17.0" lengthAdjust="spacingAndGlyphs">0.00</text></g>
<g style="will-change:transform"><text x="1197" y="590" font-size="9.5" fill="#000" font-family='"Liberation Sans", Arial, sans-serif' stroke="#000" stroke-width="0.2" textLength="30.0" lengthAdjust="spacingAndGlyphs">-13.444</text></g>
<g style="will-change:transform"><text x="1197" y="605" font-size="9.5" fill="#000" font-family='"Liberation Sans", Arial, sans-serif' stroke="#000" stroke-width="0.2" textLength="14.0" lengthAdjust="spacingAndGlyphs">100</text></g>
<rect x="1194" y="617" width="2" height="1" fill="#000"/>
<g style="will-change:transform"><text x="1196" y="621" font-size="9.5" fill="#000" font-family='"Liberation Sans", Arial, sans-serif' stroke="#000" stroke-width="0.2" textLength="9.5" lengthAdjust="spacingAndGlyphs">70</text></g>
<rect x="1194" y="646" width="2" height="1" fill="#000"/>
<g style="will-change:transform"><text x="1196" y="650" font-size="9.5" fill="#000" font-family='"Liberation Sans", Arial, sans-serif' stroke="#000" stroke-width="0.2" textLength="9.5" lengthAdjust="spacingAndGlyphs">30</text></g>
<g style="will-change:transform"><text x="1197" y="665" font-size="9.5" fill="#000" font-family='"Liberation Sans", Arial, sans-serif' stroke="#000" stroke-width="0.2" textLength="4.5" lengthAdjust="spacingAndGlyphs">0</text></g>
<rect x="1194" y="592" width="2" height="1" fill="#000"/>
<rect x="1194" y="668" width="2" height="1" fill="#000"/>
<rect x="6" y="669" width="1" height="3" fill="#000"/>
<g style="will-change:transform"><text x="5" y="681" font-size="9.5" fill="#000" font-family='"Liberation Sans", Arial, sans-serif' stroke="#000" stroke-width="0.2" textLength="50.1" lengthAdjust="spacingAndGlyphs">31 Jan 2022</text></g>
<rect x="70" y="669" width="1" height="3" fill="#000"/>
<g style="will-change:transform"><text x="70" y="681" font-size="9.5" fill="#000" font-family='"Liberation Sans", Arial, sans-serif' stroke="#000" stroke-width="0.2" textLength="48.6" lengthAdjust="spacingAndGlyphs">1 Feb 20:00</text></g>
<rect x="134" y="669" width="1" height="3" fill="#000"/>
<g style="will-change:transform"><text x="134" y="681" font-size="9.5" fill="#000" font-family='"Liberation Sans", Arial, sans-serif' stroke="#000" stroke-width="0.2" textLength="48.6" lengthAdjust="spacingAndGlyphs">3 Feb 04:00</text></g>
<rect x="198" y="669" width="1" height="3" fill="#000"/>
<g style="will-change:transform"><text x="198" y="681" font-size="9.5" fill="#000" font-family='"Liberation Sans", Arial, sans-serif' stroke="#000" stroke-width="0.2" textLength="48.6" lengthAdjust="spacingAndGlyphs">4 Feb 12:00</text></g>
<rect x="262" y="669" width="1" height="3" fill="#000"/>
<g style="will-change:transform"><text x="262" y="681" font-size="9.5" fill="#000" font-family='"Liberation Sans", Arial, sans-serif' stroke="#000" stroke-width="0.2" textLength="48.6" lengthAdjust="spacingAndGlyphs">7 Feb 20:00</text></g>
<rect x="326" y="669" width="1" height="3" fill="#000"/>
<g style="will-change:transform"><text x="326" y="681" font-size="9.5" fill="#000" font-family='"Liberation Sans", Arial, sans-serif' stroke="#000" stroke-width="0.2" textLength="48.6" lengthAdjust="spacingAndGlyphs">9 Feb 04:00</text></g>
<rect x="390" y="669" width="1" height="3" fill="#000"/>
<g style="will-change:transform"><text x="390" y="681" font-size="9.5" fill="#000" font-family='"Liberation Sans", Arial, sans-serif' stroke="#000" stroke-width="0.2" textLength="53.6" lengthAdjust="spacingAndGlyphs">10 Feb 12:00</text></g>
<rect x="454" y="669" width="1" height="3" fill="#000"/>
<g style="will-change:transform"><text x="454" y="681" font-size="9.5" fill="#000" font-family='"Liberation Sans", Arial, sans-serif' stroke="#000" stroke-width="0.2" textLength="53.6" lengthAdjust="spacingAndGlyphs">13 Feb 23:00</text></g>
<rect x="518" y="669" width="1" height="3" fill="#000"/>
<g style="will-change:transform"><text x="518" y="681" font-size="9.5" fill="#000" font-family='"Liberation Sans", Arial, sans-serif' stroke="#000" stroke-width="0.2" textLength="53.6" lengthAdjust="spacingAndGlyphs">15 Feb 04:00</text></g>
<rect x="582" y="669" width="1" height="3" fill="#000"/>
<g style="will-change:transform"><text x="582" y="681" font-size="9.5" fill="#000" font-family='"Liberation Sans", Arial, sans-serif' stroke="#000" stroke-width="0.2" textLength="53.6" lengthAdjust="spacingAndGlyphs">16 Feb 12:00</text></g>
<rect x="646" y="669" width="1" height="3" fill="#000"/>
<g style="will-change:transform"><text x="646" y="681" font-size="9.5" fill="#000" font-family='"Liberation Sans", Arial, sans-serif' stroke="#000" stroke-width="0.2" textLength="53.6" lengthAdjust="spacingAndGlyphs">17 Feb 20:00</text></g>
<rect x="710" y="669" width="1" height="3" fill="#000"/>
<g style="will-change:transform"><text x="710" y="681" font-size="9.5" fill="#000" font-family='"Liberation Sans", Arial, sans-serif' stroke="#000" stroke-width="0.2" textLength="53.6" lengthAdjust="spacingAndGlyphs">21 Feb 04:00</text></g>
<rect x="774" y="669" width="1" height="3" fill="#000"/>
<g style="will-change:transform"><text x="774" y="681" font-size="9.5" fill="#000" font-family='"Liberation Sans", Arial, sans-serif' stroke="#000" stroke-width="0.2" textLength="53.6" lengthAdjust="spacingAndGlyphs">22 Feb 12:00</text></g>
<rect x="838" y="669" width="1" height="3" fill="#000"/>
<g style="will-change:transform"><text x="838" y="681" font-size="9.5" fill="#000" font-family='"Liberation Sans", Arial, sans-serif' stroke="#000" stroke-width="0.2" textLength="53.6" lengthAdjust="spacingAndGlyphs">23 Feb 20:00</text></g>
<rect x="902" y="669" width="1" height="3" fill="#000"/>
<g style="will-change:transform"><text x="902" y="681" font-size="9.5" fill="#000" font-family='"Liberation Sans", Arial, sans-serif' stroke="#000" stroke-width="0.2" textLength="53.6" lengthAdjust="spacingAndGlyphs">25 Feb 04:00</text></g>
<rect x="966" y="669" width="1" height="3" fill="#000"/>
<g style="will-change:transform"><text x="966" y="681" font-size="9.5" fill="#000" font-family='"Liberation Sans", Arial, sans-serif' stroke="#000" stroke-width="0.2" textLength="53.6" lengthAdjust="spacingAndGlyphs">28 Feb 12:00</text></g>
<rect x="1030" y="669" width="1" height="3" fill="#000"/>
<g style="will-change:transform"><text x="1030" y="681" font-size="9.5" fill="#000" font-family='"Liberation Sans", Arial, sans-serif' stroke="#000" stroke-width="0.2" textLength="48.6" lengthAdjust="spacingAndGlyphs">1 Mar 20:00</text></g>
<rect x="1094" y="669" width="1" height="3" fill="#000"/>
<g style="will-change:transform"><text x="1094" y="681" font-size="9.5" fill="#000" font-family='"Liberation Sans", Arial, sans-serif' stroke="#000" stroke-width="0.2" textLength="48.6" lengthAdjust="spacingAndGlyphs">3 Mar 04:00</text></g>
<rect x="1158" y="669" width="1" height="3" fill="#000"/>
<g style="will-change:transform"><text x="1158" y="681" font-size="9.5" fill="#000" font-family='"Liberation Sans", Arial, sans-serif' stroke="#000" stroke-width="0.2" textLength="48.6" lengthAdjust="spacingAndGlyphs">4 Mar 12:00</text></g>
</svg>
</body></html>
